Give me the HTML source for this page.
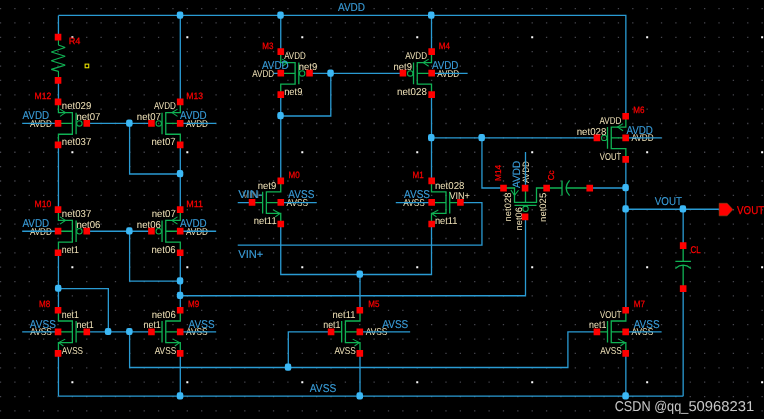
<!DOCTYPE html>
<html lang="en">
<head>
<meta charset="utf-8">
<title>Two-stage op-amp schematic</title>
<style>
html,body{margin:0;padding:0;background:#000;}
body{width:764px;height:419px;overflow:hidden;}
svg{display:block;will-change:transform;text-rendering:geometricPrecision;font-family:"Liberation Sans", sans-serif;}
</style>
</head>
<body>
<svg width="764" height="419" viewBox="0 0 764 419">
<g id="grid"><path fill="#46464e" d="M-0.13 7.91h1.3v1.3h-1.3zM-0.13 22.28h1.3v1.3h-1.3zM-0.13 36.65h1.3v1.3h-1.3zM-0.13 51.02h1.3v1.3h-1.3zM-0.13 65.39h1.3v1.3h-1.3zM-0.13 79.76h1.3v1.3h-1.3zM-0.13 94.13h1.3v1.3h-1.3zM-0.13 108.5h1.3v1.3h-1.3zM-0.13 122.87h1.3v1.3h-1.3zM-0.13 137.24h1.3v1.3h-1.3zM-0.13 151.61h1.3v1.3h-1.3zM-0.13 165.98h1.3v1.3h-1.3zM-0.13 180.35h1.3v1.3h-1.3zM-0.13 194.72h1.3v1.3h-1.3zM-0.13 209.09h1.3v1.3h-1.3zM-0.13 223.46h1.3v1.3h-1.3zM-0.13 237.83h1.3v1.3h-1.3zM-0.13 252.2h1.3v1.3h-1.3zM-0.13 266.57h1.3v1.3h-1.3zM-0.13 280.94h1.3v1.3h-1.3zM-0.13 295.31h1.3v1.3h-1.3zM-0.13 309.68h1.3v1.3h-1.3zM-0.13 324.05h1.3v1.3h-1.3zM-0.13 338.42h1.3v1.3h-1.3zM-0.13 352.79h1.3v1.3h-1.3zM-0.13 367.16h1.3v1.3h-1.3zM-0.13 381.53h1.3v1.3h-1.3zM-0.13 395.9h1.3v1.3h-1.3zM-0.13 410.27h1.3v1.3h-1.3zM14.24 7.91h1.3v1.3h-1.3zM14.24 22.28h1.3v1.3h-1.3zM14.24 36.65h1.3v1.3h-1.3zM14.24 51.02h1.3v1.3h-1.3zM14.24 65.39h1.3v1.3h-1.3zM14.24 79.76h1.3v1.3h-1.3zM14.24 94.13h1.3v1.3h-1.3zM14.24 108.5h1.3v1.3h-1.3zM14.24 122.87h1.3v1.3h-1.3zM14.24 137.24h1.3v1.3h-1.3zM14.24 151.61h1.3v1.3h-1.3zM14.24 165.98h1.3v1.3h-1.3zM14.24 180.35h1.3v1.3h-1.3zM14.24 194.72h1.3v1.3h-1.3zM14.24 209.09h1.3v1.3h-1.3zM14.24 223.46h1.3v1.3h-1.3zM14.24 237.83h1.3v1.3h-1.3zM14.24 252.2h1.3v1.3h-1.3zM14.24 266.57h1.3v1.3h-1.3zM14.24 280.94h1.3v1.3h-1.3zM14.24 295.31h1.3v1.3h-1.3zM14.24 309.68h1.3v1.3h-1.3zM14.24 324.05h1.3v1.3h-1.3zM14.24 338.42h1.3v1.3h-1.3zM14.24 352.79h1.3v1.3h-1.3zM14.24 367.16h1.3v1.3h-1.3zM14.24 381.53h1.3v1.3h-1.3zM14.24 395.9h1.3v1.3h-1.3zM14.24 410.27h1.3v1.3h-1.3zM28.61 7.91h1.3v1.3h-1.3zM28.61 22.28h1.3v1.3h-1.3zM28.61 36.65h1.3v1.3h-1.3zM28.61 51.02h1.3v1.3h-1.3zM28.61 65.39h1.3v1.3h-1.3zM28.61 79.76h1.3v1.3h-1.3zM28.61 94.13h1.3v1.3h-1.3zM28.61 108.5h1.3v1.3h-1.3zM28.61 122.87h1.3v1.3h-1.3zM28.61 137.24h1.3v1.3h-1.3zM28.61 151.61h1.3v1.3h-1.3zM28.61 165.98h1.3v1.3h-1.3zM28.61 180.35h1.3v1.3h-1.3zM28.61 194.72h1.3v1.3h-1.3zM28.61 209.09h1.3v1.3h-1.3zM28.61 223.46h1.3v1.3h-1.3zM28.61 237.83h1.3v1.3h-1.3zM28.61 252.2h1.3v1.3h-1.3zM28.61 266.57h1.3v1.3h-1.3zM28.61 280.94h1.3v1.3h-1.3zM28.61 295.31h1.3v1.3h-1.3zM28.61 309.68h1.3v1.3h-1.3zM28.61 324.05h1.3v1.3h-1.3zM28.61 338.42h1.3v1.3h-1.3zM28.61 352.79h1.3v1.3h-1.3zM28.61 367.16h1.3v1.3h-1.3zM28.61 381.53h1.3v1.3h-1.3zM28.61 395.9h1.3v1.3h-1.3zM28.61 410.27h1.3v1.3h-1.3zM42.98 7.91h1.3v1.3h-1.3zM42.98 22.28h1.3v1.3h-1.3zM42.98 36.65h1.3v1.3h-1.3zM42.98 51.02h1.3v1.3h-1.3zM42.98 65.39h1.3v1.3h-1.3zM42.98 79.76h1.3v1.3h-1.3zM42.98 94.13h1.3v1.3h-1.3zM42.98 108.5h1.3v1.3h-1.3zM42.98 122.87h1.3v1.3h-1.3zM42.98 137.24h1.3v1.3h-1.3zM42.98 151.61h1.3v1.3h-1.3zM42.98 165.98h1.3v1.3h-1.3zM42.98 180.35h1.3v1.3h-1.3zM42.98 194.72h1.3v1.3h-1.3zM42.98 209.09h1.3v1.3h-1.3zM42.98 223.46h1.3v1.3h-1.3zM42.98 237.83h1.3v1.3h-1.3zM42.98 252.2h1.3v1.3h-1.3zM42.98 266.57h1.3v1.3h-1.3zM42.98 280.94h1.3v1.3h-1.3zM42.98 295.31h1.3v1.3h-1.3zM42.98 309.68h1.3v1.3h-1.3zM42.98 324.05h1.3v1.3h-1.3zM42.98 338.42h1.3v1.3h-1.3zM42.98 352.79h1.3v1.3h-1.3zM42.98 367.16h1.3v1.3h-1.3zM42.98 381.53h1.3v1.3h-1.3zM42.98 395.9h1.3v1.3h-1.3zM42.98 410.27h1.3v1.3h-1.3zM57.35 7.91h1.3v1.3h-1.3zM57.35 22.28h1.3v1.3h-1.3zM57.35 36.65h1.3v1.3h-1.3zM57.35 51.02h1.3v1.3h-1.3zM57.35 65.39h1.3v1.3h-1.3zM57.35 79.76h1.3v1.3h-1.3zM57.35 94.13h1.3v1.3h-1.3zM57.35 108.5h1.3v1.3h-1.3zM57.35 122.87h1.3v1.3h-1.3zM57.35 137.24h1.3v1.3h-1.3zM57.35 151.61h1.3v1.3h-1.3zM57.35 165.98h1.3v1.3h-1.3zM57.35 180.35h1.3v1.3h-1.3zM57.35 194.72h1.3v1.3h-1.3zM57.35 209.09h1.3v1.3h-1.3zM57.35 223.46h1.3v1.3h-1.3zM57.35 237.83h1.3v1.3h-1.3zM57.35 252.2h1.3v1.3h-1.3zM57.35 266.57h1.3v1.3h-1.3zM57.35 280.94h1.3v1.3h-1.3zM57.35 295.31h1.3v1.3h-1.3zM57.35 309.68h1.3v1.3h-1.3zM57.35 324.05h1.3v1.3h-1.3zM57.35 338.42h1.3v1.3h-1.3zM57.35 352.79h1.3v1.3h-1.3zM57.35 367.16h1.3v1.3h-1.3zM57.35 381.53h1.3v1.3h-1.3zM57.35 395.9h1.3v1.3h-1.3zM57.35 410.27h1.3v1.3h-1.3zM71.72 7.91h1.3v1.3h-1.3zM71.72 22.28h1.3v1.3h-1.3zM71.72 51.02h1.3v1.3h-1.3zM71.72 65.39h1.3v1.3h-1.3zM71.72 79.76h1.3v1.3h-1.3zM71.72 94.13h1.3v1.3h-1.3zM71.72 108.5h1.3v1.3h-1.3zM71.72 122.87h1.3v1.3h-1.3zM71.72 137.24h1.3v1.3h-1.3zM71.72 165.98h1.3v1.3h-1.3zM71.72 180.35h1.3v1.3h-1.3zM71.72 194.72h1.3v1.3h-1.3zM71.72 209.09h1.3v1.3h-1.3zM71.72 223.46h1.3v1.3h-1.3zM71.72 237.83h1.3v1.3h-1.3zM71.72 252.2h1.3v1.3h-1.3zM71.72 280.94h1.3v1.3h-1.3zM71.72 295.31h1.3v1.3h-1.3zM71.72 309.68h1.3v1.3h-1.3zM71.72 324.05h1.3v1.3h-1.3zM71.72 338.42h1.3v1.3h-1.3zM71.72 352.79h1.3v1.3h-1.3zM71.72 367.16h1.3v1.3h-1.3zM71.72 395.9h1.3v1.3h-1.3zM71.72 410.27h1.3v1.3h-1.3zM86.09 7.91h1.3v1.3h-1.3zM86.09 22.28h1.3v1.3h-1.3zM86.09 36.65h1.3v1.3h-1.3zM86.09 51.02h1.3v1.3h-1.3zM86.09 65.39h1.3v1.3h-1.3zM86.09 79.76h1.3v1.3h-1.3zM86.09 94.13h1.3v1.3h-1.3zM86.09 108.5h1.3v1.3h-1.3zM86.09 122.87h1.3v1.3h-1.3zM86.09 137.24h1.3v1.3h-1.3zM86.09 151.61h1.3v1.3h-1.3zM86.09 165.98h1.3v1.3h-1.3zM86.09 180.35h1.3v1.3h-1.3zM86.09 194.72h1.3v1.3h-1.3zM86.09 209.09h1.3v1.3h-1.3zM86.09 223.46h1.3v1.3h-1.3zM86.09 237.83h1.3v1.3h-1.3zM86.09 252.2h1.3v1.3h-1.3zM86.09 266.57h1.3v1.3h-1.3zM86.09 280.94h1.3v1.3h-1.3zM86.09 295.31h1.3v1.3h-1.3zM86.09 309.68h1.3v1.3h-1.3zM86.09 324.05h1.3v1.3h-1.3zM86.09 338.42h1.3v1.3h-1.3zM86.09 352.79h1.3v1.3h-1.3zM86.09 367.16h1.3v1.3h-1.3zM86.09 381.53h1.3v1.3h-1.3zM86.09 395.9h1.3v1.3h-1.3zM86.09 410.27h1.3v1.3h-1.3zM100.46 7.91h1.3v1.3h-1.3zM100.46 22.28h1.3v1.3h-1.3zM100.46 36.65h1.3v1.3h-1.3zM100.46 51.02h1.3v1.3h-1.3zM100.46 65.39h1.3v1.3h-1.3zM100.46 79.76h1.3v1.3h-1.3zM100.46 94.13h1.3v1.3h-1.3zM100.46 108.5h1.3v1.3h-1.3zM100.46 122.87h1.3v1.3h-1.3zM100.46 137.24h1.3v1.3h-1.3zM100.46 151.61h1.3v1.3h-1.3zM100.46 165.98h1.3v1.3h-1.3zM100.46 180.35h1.3v1.3h-1.3zM100.46 194.72h1.3v1.3h-1.3zM100.46 209.09h1.3v1.3h-1.3zM100.46 223.46h1.3v1.3h-1.3zM100.46 237.83h1.3v1.3h-1.3zM100.46 252.2h1.3v1.3h-1.3zM100.46 266.57h1.3v1.3h-1.3zM100.46 280.94h1.3v1.3h-1.3zM100.46 295.31h1.3v1.3h-1.3zM100.46 309.68h1.3v1.3h-1.3zM100.46 324.05h1.3v1.3h-1.3zM100.46 338.42h1.3v1.3h-1.3zM100.46 352.79h1.3v1.3h-1.3zM100.46 367.16h1.3v1.3h-1.3zM100.46 381.53h1.3v1.3h-1.3zM100.46 395.9h1.3v1.3h-1.3zM100.46 410.27h1.3v1.3h-1.3zM114.83 7.91h1.3v1.3h-1.3zM114.83 22.28h1.3v1.3h-1.3zM114.83 36.65h1.3v1.3h-1.3zM114.83 51.02h1.3v1.3h-1.3zM114.83 65.39h1.3v1.3h-1.3zM114.83 79.76h1.3v1.3h-1.3zM114.83 94.13h1.3v1.3h-1.3zM114.83 108.5h1.3v1.3h-1.3zM114.83 122.87h1.3v1.3h-1.3zM114.83 137.24h1.3v1.3h-1.3zM114.83 151.61h1.3v1.3h-1.3zM114.83 165.98h1.3v1.3h-1.3zM114.83 180.35h1.3v1.3h-1.3zM114.83 194.72h1.3v1.3h-1.3zM114.83 209.09h1.3v1.3h-1.3zM114.83 223.46h1.3v1.3h-1.3zM114.83 237.83h1.3v1.3h-1.3zM114.83 252.2h1.3v1.3h-1.3zM114.83 266.57h1.3v1.3h-1.3zM114.83 280.94h1.3v1.3h-1.3zM114.83 295.31h1.3v1.3h-1.3zM114.83 309.68h1.3v1.3h-1.3zM114.83 324.05h1.3v1.3h-1.3zM114.83 338.42h1.3v1.3h-1.3zM114.83 352.79h1.3v1.3h-1.3zM114.83 367.16h1.3v1.3h-1.3zM114.83 381.53h1.3v1.3h-1.3zM114.83 395.9h1.3v1.3h-1.3zM114.83 410.27h1.3v1.3h-1.3zM129.2 7.91h1.3v1.3h-1.3zM129.2 22.28h1.3v1.3h-1.3zM129.2 36.65h1.3v1.3h-1.3zM129.2 51.02h1.3v1.3h-1.3zM129.2 65.39h1.3v1.3h-1.3zM129.2 79.76h1.3v1.3h-1.3zM129.2 94.13h1.3v1.3h-1.3zM129.2 108.5h1.3v1.3h-1.3zM129.2 122.87h1.3v1.3h-1.3zM129.2 137.24h1.3v1.3h-1.3zM129.2 151.61h1.3v1.3h-1.3zM129.2 165.98h1.3v1.3h-1.3zM129.2 180.35h1.3v1.3h-1.3zM129.2 194.72h1.3v1.3h-1.3zM129.2 209.09h1.3v1.3h-1.3zM129.2 223.46h1.3v1.3h-1.3zM129.2 237.83h1.3v1.3h-1.3zM129.2 252.2h1.3v1.3h-1.3zM129.2 266.57h1.3v1.3h-1.3zM129.2 280.94h1.3v1.3h-1.3zM129.2 295.31h1.3v1.3h-1.3zM129.2 309.68h1.3v1.3h-1.3zM129.2 324.05h1.3v1.3h-1.3zM129.2 338.42h1.3v1.3h-1.3zM129.2 352.79h1.3v1.3h-1.3zM129.2 367.16h1.3v1.3h-1.3zM129.2 381.53h1.3v1.3h-1.3zM129.2 395.9h1.3v1.3h-1.3zM129.2 410.27h1.3v1.3h-1.3zM143.57 7.91h1.3v1.3h-1.3zM143.57 22.28h1.3v1.3h-1.3zM143.57 36.65h1.3v1.3h-1.3zM143.57 51.02h1.3v1.3h-1.3zM143.57 65.39h1.3v1.3h-1.3zM143.57 79.76h1.3v1.3h-1.3zM143.57 94.13h1.3v1.3h-1.3zM143.57 108.5h1.3v1.3h-1.3zM143.57 122.87h1.3v1.3h-1.3zM143.57 137.24h1.3v1.3h-1.3zM143.57 151.61h1.3v1.3h-1.3zM143.57 165.98h1.3v1.3h-1.3zM143.57 180.35h1.3v1.3h-1.3zM143.57 194.72h1.3v1.3h-1.3zM143.57 209.09h1.3v1.3h-1.3zM143.57 223.46h1.3v1.3h-1.3zM143.57 237.83h1.3v1.3h-1.3zM143.57 252.2h1.3v1.3h-1.3zM143.57 266.57h1.3v1.3h-1.3zM143.57 280.94h1.3v1.3h-1.3zM143.57 295.31h1.3v1.3h-1.3zM143.57 309.68h1.3v1.3h-1.3zM143.57 324.05h1.3v1.3h-1.3zM143.57 338.42h1.3v1.3h-1.3zM143.57 352.79h1.3v1.3h-1.3zM143.57 367.16h1.3v1.3h-1.3zM143.57 381.53h1.3v1.3h-1.3zM143.57 395.9h1.3v1.3h-1.3zM143.57 410.27h1.3v1.3h-1.3zM157.94 7.91h1.3v1.3h-1.3zM157.94 22.28h1.3v1.3h-1.3zM157.94 36.65h1.3v1.3h-1.3zM157.94 51.02h1.3v1.3h-1.3zM157.94 65.39h1.3v1.3h-1.3zM157.94 79.76h1.3v1.3h-1.3zM157.94 94.13h1.3v1.3h-1.3zM157.94 108.5h1.3v1.3h-1.3zM157.94 122.87h1.3v1.3h-1.3zM157.94 137.24h1.3v1.3h-1.3zM157.94 151.61h1.3v1.3h-1.3zM157.94 165.98h1.3v1.3h-1.3zM157.94 180.35h1.3v1.3h-1.3zM157.94 194.72h1.3v1.3h-1.3zM157.94 209.09h1.3v1.3h-1.3zM157.94 223.46h1.3v1.3h-1.3zM157.94 237.83h1.3v1.3h-1.3zM157.94 252.2h1.3v1.3h-1.3zM157.94 266.57h1.3v1.3h-1.3zM157.94 280.94h1.3v1.3h-1.3zM157.94 295.31h1.3v1.3h-1.3zM157.94 309.68h1.3v1.3h-1.3zM157.94 324.05h1.3v1.3h-1.3zM157.94 338.42h1.3v1.3h-1.3zM157.94 352.79h1.3v1.3h-1.3zM157.94 367.16h1.3v1.3h-1.3zM157.94 381.53h1.3v1.3h-1.3zM157.94 395.9h1.3v1.3h-1.3zM157.94 410.27h1.3v1.3h-1.3zM172.31 7.91h1.3v1.3h-1.3zM172.31 22.28h1.3v1.3h-1.3zM172.31 36.65h1.3v1.3h-1.3zM172.31 51.02h1.3v1.3h-1.3zM172.31 65.39h1.3v1.3h-1.3zM172.31 79.76h1.3v1.3h-1.3zM172.31 94.13h1.3v1.3h-1.3zM172.31 108.5h1.3v1.3h-1.3zM172.31 122.87h1.3v1.3h-1.3zM172.31 137.24h1.3v1.3h-1.3zM172.31 151.61h1.3v1.3h-1.3zM172.31 165.98h1.3v1.3h-1.3zM172.31 180.35h1.3v1.3h-1.3zM172.31 194.72h1.3v1.3h-1.3zM172.31 209.09h1.3v1.3h-1.3zM172.31 223.46h1.3v1.3h-1.3zM172.31 237.83h1.3v1.3h-1.3zM172.31 252.2h1.3v1.3h-1.3zM172.31 266.57h1.3v1.3h-1.3zM172.31 280.94h1.3v1.3h-1.3zM172.31 295.31h1.3v1.3h-1.3zM172.31 309.68h1.3v1.3h-1.3zM172.31 324.05h1.3v1.3h-1.3zM172.31 338.42h1.3v1.3h-1.3zM172.31 352.79h1.3v1.3h-1.3zM172.31 367.16h1.3v1.3h-1.3zM172.31 381.53h1.3v1.3h-1.3zM172.31 395.9h1.3v1.3h-1.3zM172.31 410.27h1.3v1.3h-1.3zM186.68 7.91h1.3v1.3h-1.3zM186.68 22.28h1.3v1.3h-1.3zM186.68 51.02h1.3v1.3h-1.3zM186.68 65.39h1.3v1.3h-1.3zM186.68 79.76h1.3v1.3h-1.3zM186.68 94.13h1.3v1.3h-1.3zM186.68 108.5h1.3v1.3h-1.3zM186.68 122.87h1.3v1.3h-1.3zM186.68 137.24h1.3v1.3h-1.3zM186.68 165.98h1.3v1.3h-1.3zM186.68 180.35h1.3v1.3h-1.3zM186.68 194.72h1.3v1.3h-1.3zM186.68 209.09h1.3v1.3h-1.3zM186.68 223.46h1.3v1.3h-1.3zM186.68 237.83h1.3v1.3h-1.3zM186.68 252.2h1.3v1.3h-1.3zM186.68 280.94h1.3v1.3h-1.3zM186.68 295.31h1.3v1.3h-1.3zM186.68 309.68h1.3v1.3h-1.3zM186.68 324.05h1.3v1.3h-1.3zM186.68 338.42h1.3v1.3h-1.3zM186.68 352.79h1.3v1.3h-1.3zM186.68 367.16h1.3v1.3h-1.3zM186.68 395.9h1.3v1.3h-1.3zM186.68 410.27h1.3v1.3h-1.3zM201.05 7.91h1.3v1.3h-1.3zM201.05 22.28h1.3v1.3h-1.3zM201.05 36.65h1.3v1.3h-1.3zM201.05 51.02h1.3v1.3h-1.3zM201.05 65.39h1.3v1.3h-1.3zM201.05 79.76h1.3v1.3h-1.3zM201.05 94.13h1.3v1.3h-1.3zM201.05 108.5h1.3v1.3h-1.3zM201.05 122.87h1.3v1.3h-1.3zM201.05 137.24h1.3v1.3h-1.3zM201.05 151.61h1.3v1.3h-1.3zM201.05 165.98h1.3v1.3h-1.3zM201.05 180.35h1.3v1.3h-1.3zM201.05 194.72h1.3v1.3h-1.3zM201.05 209.09h1.3v1.3h-1.3zM201.05 223.46h1.3v1.3h-1.3zM201.05 237.83h1.3v1.3h-1.3zM201.05 252.2h1.3v1.3h-1.3zM201.05 266.57h1.3v1.3h-1.3zM201.05 280.94h1.3v1.3h-1.3zM201.05 295.31h1.3v1.3h-1.3zM201.05 309.68h1.3v1.3h-1.3zM201.05 324.05h1.3v1.3h-1.3zM201.05 338.42h1.3v1.3h-1.3zM201.05 352.79h1.3v1.3h-1.3zM201.05 367.16h1.3v1.3h-1.3zM201.05 381.53h1.3v1.3h-1.3zM201.05 395.9h1.3v1.3h-1.3zM201.05 410.27h1.3v1.3h-1.3zM215.42 7.91h1.3v1.3h-1.3zM215.42 22.28h1.3v1.3h-1.3zM215.42 36.65h1.3v1.3h-1.3zM215.42 51.02h1.3v1.3h-1.3zM215.42 65.39h1.3v1.3h-1.3zM215.42 79.76h1.3v1.3h-1.3zM215.42 94.13h1.3v1.3h-1.3zM215.42 108.5h1.3v1.3h-1.3zM215.42 122.87h1.3v1.3h-1.3zM215.42 137.24h1.3v1.3h-1.3zM215.42 151.61h1.3v1.3h-1.3zM215.42 165.98h1.3v1.3h-1.3zM215.42 180.35h1.3v1.3h-1.3zM215.42 194.72h1.3v1.3h-1.3zM215.42 209.09h1.3v1.3h-1.3zM215.42 223.46h1.3v1.3h-1.3zM215.42 237.83h1.3v1.3h-1.3zM215.42 252.2h1.3v1.3h-1.3zM215.42 266.57h1.3v1.3h-1.3zM215.42 280.94h1.3v1.3h-1.3zM215.42 295.31h1.3v1.3h-1.3zM215.42 309.68h1.3v1.3h-1.3zM215.42 324.05h1.3v1.3h-1.3zM215.42 338.42h1.3v1.3h-1.3zM215.42 352.79h1.3v1.3h-1.3zM215.42 367.16h1.3v1.3h-1.3zM215.42 381.53h1.3v1.3h-1.3zM215.42 395.9h1.3v1.3h-1.3zM215.42 410.27h1.3v1.3h-1.3zM229.79 7.91h1.3v1.3h-1.3zM229.79 22.28h1.3v1.3h-1.3zM229.79 36.65h1.3v1.3h-1.3zM229.79 51.02h1.3v1.3h-1.3zM229.79 65.39h1.3v1.3h-1.3zM229.79 79.76h1.3v1.3h-1.3zM229.79 94.13h1.3v1.3h-1.3zM229.79 108.5h1.3v1.3h-1.3zM229.79 122.87h1.3v1.3h-1.3zM229.79 137.24h1.3v1.3h-1.3zM229.79 151.61h1.3v1.3h-1.3zM229.79 165.98h1.3v1.3h-1.3zM229.79 180.35h1.3v1.3h-1.3zM229.79 194.72h1.3v1.3h-1.3zM229.79 209.09h1.3v1.3h-1.3zM229.79 223.46h1.3v1.3h-1.3zM229.79 237.83h1.3v1.3h-1.3zM229.79 252.2h1.3v1.3h-1.3zM229.79 266.57h1.3v1.3h-1.3zM229.79 280.94h1.3v1.3h-1.3zM229.79 295.31h1.3v1.3h-1.3zM229.79 309.68h1.3v1.3h-1.3zM229.79 324.05h1.3v1.3h-1.3zM229.79 338.42h1.3v1.3h-1.3zM229.79 352.79h1.3v1.3h-1.3zM229.79 367.16h1.3v1.3h-1.3zM229.79 381.53h1.3v1.3h-1.3zM229.79 395.9h1.3v1.3h-1.3zM229.79 410.27h1.3v1.3h-1.3zM244.16 7.91h1.3v1.3h-1.3zM244.16 22.28h1.3v1.3h-1.3zM244.16 36.65h1.3v1.3h-1.3zM244.16 51.02h1.3v1.3h-1.3zM244.16 65.39h1.3v1.3h-1.3zM244.16 79.76h1.3v1.3h-1.3zM244.16 94.13h1.3v1.3h-1.3zM244.16 108.5h1.3v1.3h-1.3zM244.16 122.87h1.3v1.3h-1.3zM244.16 137.24h1.3v1.3h-1.3zM244.16 151.61h1.3v1.3h-1.3zM244.16 165.98h1.3v1.3h-1.3zM244.16 180.35h1.3v1.3h-1.3zM244.16 194.72h1.3v1.3h-1.3zM244.16 209.09h1.3v1.3h-1.3zM244.16 223.46h1.3v1.3h-1.3zM244.16 237.83h1.3v1.3h-1.3zM244.16 252.2h1.3v1.3h-1.3zM244.16 266.57h1.3v1.3h-1.3zM244.16 280.94h1.3v1.3h-1.3zM244.16 295.31h1.3v1.3h-1.3zM244.16 309.68h1.3v1.3h-1.3zM244.16 324.05h1.3v1.3h-1.3zM244.16 338.42h1.3v1.3h-1.3zM244.16 352.79h1.3v1.3h-1.3zM244.16 367.16h1.3v1.3h-1.3zM244.16 381.53h1.3v1.3h-1.3zM244.16 395.9h1.3v1.3h-1.3zM244.16 410.27h1.3v1.3h-1.3zM258.53 7.91h1.3v1.3h-1.3zM258.53 22.28h1.3v1.3h-1.3zM258.53 36.65h1.3v1.3h-1.3zM258.53 51.02h1.3v1.3h-1.3zM258.53 65.39h1.3v1.3h-1.3zM258.53 79.76h1.3v1.3h-1.3zM258.53 94.13h1.3v1.3h-1.3zM258.53 108.5h1.3v1.3h-1.3zM258.53 122.87h1.3v1.3h-1.3zM258.53 137.24h1.3v1.3h-1.3zM258.53 151.61h1.3v1.3h-1.3zM258.53 165.98h1.3v1.3h-1.3zM258.53 180.35h1.3v1.3h-1.3zM258.53 194.72h1.3v1.3h-1.3zM258.53 209.09h1.3v1.3h-1.3zM258.53 223.46h1.3v1.3h-1.3zM258.53 237.83h1.3v1.3h-1.3zM258.53 252.2h1.3v1.3h-1.3zM258.53 266.57h1.3v1.3h-1.3zM258.53 280.94h1.3v1.3h-1.3zM258.53 295.31h1.3v1.3h-1.3zM258.53 309.68h1.3v1.3h-1.3zM258.53 324.05h1.3v1.3h-1.3zM258.53 338.42h1.3v1.3h-1.3zM258.53 352.79h1.3v1.3h-1.3zM258.53 367.16h1.3v1.3h-1.3zM258.53 381.53h1.3v1.3h-1.3zM258.53 395.9h1.3v1.3h-1.3zM258.53 410.27h1.3v1.3h-1.3zM272.9 7.91h1.3v1.3h-1.3zM272.9 22.28h1.3v1.3h-1.3zM272.9 36.65h1.3v1.3h-1.3zM272.9 51.02h1.3v1.3h-1.3zM272.9 65.39h1.3v1.3h-1.3zM272.9 79.76h1.3v1.3h-1.3zM272.9 94.13h1.3v1.3h-1.3zM272.9 108.5h1.3v1.3h-1.3zM272.9 122.87h1.3v1.3h-1.3zM272.9 137.24h1.3v1.3h-1.3zM272.9 151.61h1.3v1.3h-1.3zM272.9 165.98h1.3v1.3h-1.3zM272.9 180.35h1.3v1.3h-1.3zM272.9 194.72h1.3v1.3h-1.3zM272.9 209.09h1.3v1.3h-1.3zM272.9 223.46h1.3v1.3h-1.3zM272.9 237.83h1.3v1.3h-1.3zM272.9 252.2h1.3v1.3h-1.3zM272.9 266.57h1.3v1.3h-1.3zM272.9 280.94h1.3v1.3h-1.3zM272.9 295.31h1.3v1.3h-1.3zM272.9 309.68h1.3v1.3h-1.3zM272.9 324.05h1.3v1.3h-1.3zM272.9 338.42h1.3v1.3h-1.3zM272.9 352.79h1.3v1.3h-1.3zM272.9 367.16h1.3v1.3h-1.3zM272.9 381.53h1.3v1.3h-1.3zM272.9 395.9h1.3v1.3h-1.3zM272.9 410.27h1.3v1.3h-1.3zM287.27 7.91h1.3v1.3h-1.3zM287.27 22.28h1.3v1.3h-1.3zM287.27 36.65h1.3v1.3h-1.3zM287.27 51.02h1.3v1.3h-1.3zM287.27 65.39h1.3v1.3h-1.3zM287.27 79.76h1.3v1.3h-1.3zM287.27 94.13h1.3v1.3h-1.3zM287.27 108.5h1.3v1.3h-1.3zM287.27 122.87h1.3v1.3h-1.3zM287.27 137.24h1.3v1.3h-1.3zM287.27 151.61h1.3v1.3h-1.3zM287.27 165.98h1.3v1.3h-1.3zM287.27 180.35h1.3v1.3h-1.3zM287.27 194.72h1.3v1.3h-1.3zM287.27 209.09h1.3v1.3h-1.3zM287.27 223.46h1.3v1.3h-1.3zM287.27 237.83h1.3v1.3h-1.3zM287.27 252.2h1.3v1.3h-1.3zM287.27 266.57h1.3v1.3h-1.3zM287.27 280.94h1.3v1.3h-1.3zM287.27 295.31h1.3v1.3h-1.3zM287.27 309.68h1.3v1.3h-1.3zM287.27 324.05h1.3v1.3h-1.3zM287.27 338.42h1.3v1.3h-1.3zM287.27 352.79h1.3v1.3h-1.3zM287.27 367.16h1.3v1.3h-1.3zM287.27 381.53h1.3v1.3h-1.3zM287.27 395.9h1.3v1.3h-1.3zM287.27 410.27h1.3v1.3h-1.3zM301.64 7.91h1.3v1.3h-1.3zM301.64 22.28h1.3v1.3h-1.3zM301.64 51.02h1.3v1.3h-1.3zM301.64 65.39h1.3v1.3h-1.3zM301.64 79.76h1.3v1.3h-1.3zM301.64 94.13h1.3v1.3h-1.3zM301.64 108.5h1.3v1.3h-1.3zM301.64 122.87h1.3v1.3h-1.3zM301.64 137.24h1.3v1.3h-1.3zM301.64 165.98h1.3v1.3h-1.3zM301.64 180.35h1.3v1.3h-1.3zM301.64 194.72h1.3v1.3h-1.3zM301.64 209.09h1.3v1.3h-1.3zM301.64 223.46h1.3v1.3h-1.3zM301.64 237.83h1.3v1.3h-1.3zM301.64 252.2h1.3v1.3h-1.3zM301.64 280.94h1.3v1.3h-1.3zM301.64 295.31h1.3v1.3h-1.3zM301.64 309.68h1.3v1.3h-1.3zM301.64 324.05h1.3v1.3h-1.3zM301.64 338.42h1.3v1.3h-1.3zM301.64 352.79h1.3v1.3h-1.3zM301.64 367.16h1.3v1.3h-1.3zM301.64 395.9h1.3v1.3h-1.3zM301.64 410.27h1.3v1.3h-1.3zM316.01 7.91h1.3v1.3h-1.3zM316.01 22.28h1.3v1.3h-1.3zM316.01 36.65h1.3v1.3h-1.3zM316.01 51.02h1.3v1.3h-1.3zM316.01 65.39h1.3v1.3h-1.3zM316.01 79.76h1.3v1.3h-1.3zM316.01 94.13h1.3v1.3h-1.3zM316.01 108.5h1.3v1.3h-1.3zM316.01 122.87h1.3v1.3h-1.3zM316.01 137.24h1.3v1.3h-1.3zM316.01 151.61h1.3v1.3h-1.3zM316.01 165.98h1.3v1.3h-1.3zM316.01 180.35h1.3v1.3h-1.3zM316.01 194.72h1.3v1.3h-1.3zM316.01 209.09h1.3v1.3h-1.3zM316.01 223.46h1.3v1.3h-1.3zM316.01 237.83h1.3v1.3h-1.3zM316.01 252.2h1.3v1.3h-1.3zM316.01 266.57h1.3v1.3h-1.3zM316.01 280.94h1.3v1.3h-1.3zM316.01 295.31h1.3v1.3h-1.3zM316.01 309.68h1.3v1.3h-1.3zM316.01 324.05h1.3v1.3h-1.3zM316.01 338.42h1.3v1.3h-1.3zM316.01 352.79h1.3v1.3h-1.3zM316.01 367.16h1.3v1.3h-1.3zM316.01 381.53h1.3v1.3h-1.3zM316.01 395.9h1.3v1.3h-1.3zM316.01 410.27h1.3v1.3h-1.3zM330.38 7.91h1.3v1.3h-1.3zM330.38 22.28h1.3v1.3h-1.3zM330.38 36.65h1.3v1.3h-1.3zM330.38 51.02h1.3v1.3h-1.3zM330.38 65.39h1.3v1.3h-1.3zM330.38 79.76h1.3v1.3h-1.3zM330.38 94.13h1.3v1.3h-1.3zM330.38 108.5h1.3v1.3h-1.3zM330.38 122.87h1.3v1.3h-1.3zM330.38 137.24h1.3v1.3h-1.3zM330.38 151.61h1.3v1.3h-1.3zM330.38 165.98h1.3v1.3h-1.3zM330.38 180.35h1.3v1.3h-1.3zM330.38 194.72h1.3v1.3h-1.3zM330.38 209.09h1.3v1.3h-1.3zM330.38 223.46h1.3v1.3h-1.3zM330.38 237.83h1.3v1.3h-1.3zM330.38 252.2h1.3v1.3h-1.3zM330.38 266.57h1.3v1.3h-1.3zM330.38 280.94h1.3v1.3h-1.3zM330.38 295.31h1.3v1.3h-1.3zM330.38 309.68h1.3v1.3h-1.3zM330.38 324.05h1.3v1.3h-1.3zM330.38 338.42h1.3v1.3h-1.3zM330.38 352.79h1.3v1.3h-1.3zM330.38 367.16h1.3v1.3h-1.3zM330.38 381.53h1.3v1.3h-1.3zM330.38 395.9h1.3v1.3h-1.3zM330.38 410.27h1.3v1.3h-1.3zM344.75 7.91h1.3v1.3h-1.3zM344.75 22.28h1.3v1.3h-1.3zM344.75 36.65h1.3v1.3h-1.3zM344.75 51.02h1.3v1.3h-1.3zM344.75 65.39h1.3v1.3h-1.3zM344.75 79.76h1.3v1.3h-1.3zM344.75 94.13h1.3v1.3h-1.3zM344.75 108.5h1.3v1.3h-1.3zM344.75 122.87h1.3v1.3h-1.3zM344.75 137.24h1.3v1.3h-1.3zM344.75 151.61h1.3v1.3h-1.3zM344.75 165.98h1.3v1.3h-1.3zM344.75 180.35h1.3v1.3h-1.3zM344.75 194.72h1.3v1.3h-1.3zM344.75 209.09h1.3v1.3h-1.3zM344.75 223.46h1.3v1.3h-1.3zM344.75 237.83h1.3v1.3h-1.3zM344.75 252.2h1.3v1.3h-1.3zM344.75 266.57h1.3v1.3h-1.3zM344.75 280.94h1.3v1.3h-1.3zM344.75 295.31h1.3v1.3h-1.3zM344.75 309.68h1.3v1.3h-1.3zM344.75 324.05h1.3v1.3h-1.3zM344.75 338.42h1.3v1.3h-1.3zM344.75 352.79h1.3v1.3h-1.3zM344.75 367.16h1.3v1.3h-1.3zM344.75 381.53h1.3v1.3h-1.3zM344.75 395.9h1.3v1.3h-1.3zM344.75 410.27h1.3v1.3h-1.3zM359.12 7.91h1.3v1.3h-1.3zM359.12 22.28h1.3v1.3h-1.3zM359.12 36.65h1.3v1.3h-1.3zM359.12 51.02h1.3v1.3h-1.3zM359.12 65.39h1.3v1.3h-1.3zM359.12 79.76h1.3v1.3h-1.3zM359.12 94.13h1.3v1.3h-1.3zM359.12 108.5h1.3v1.3h-1.3zM359.12 122.87h1.3v1.3h-1.3zM359.12 137.24h1.3v1.3h-1.3zM359.12 151.61h1.3v1.3h-1.3zM359.12 165.98h1.3v1.3h-1.3zM359.12 180.35h1.3v1.3h-1.3zM359.12 194.72h1.3v1.3h-1.3zM359.12 209.09h1.3v1.3h-1.3zM359.12 223.46h1.3v1.3h-1.3zM359.12 237.83h1.3v1.3h-1.3zM359.12 252.2h1.3v1.3h-1.3zM359.12 266.57h1.3v1.3h-1.3zM359.12 280.94h1.3v1.3h-1.3zM359.12 295.31h1.3v1.3h-1.3zM359.12 309.68h1.3v1.3h-1.3zM359.12 324.05h1.3v1.3h-1.3zM359.12 338.42h1.3v1.3h-1.3zM359.12 352.79h1.3v1.3h-1.3zM359.12 367.16h1.3v1.3h-1.3zM359.12 381.53h1.3v1.3h-1.3zM359.12 395.9h1.3v1.3h-1.3zM359.12 410.27h1.3v1.3h-1.3zM373.49 7.91h1.3v1.3h-1.3zM373.49 22.28h1.3v1.3h-1.3zM373.49 36.65h1.3v1.3h-1.3zM373.49 51.02h1.3v1.3h-1.3zM373.49 65.39h1.3v1.3h-1.3zM373.49 79.76h1.3v1.3h-1.3zM373.49 94.13h1.3v1.3h-1.3zM373.49 108.5h1.3v1.3h-1.3zM373.49 122.87h1.3v1.3h-1.3zM373.49 137.24h1.3v1.3h-1.3zM373.49 151.61h1.3v1.3h-1.3zM373.49 165.98h1.3v1.3h-1.3zM373.49 180.35h1.3v1.3h-1.3zM373.49 194.72h1.3v1.3h-1.3zM373.49 209.09h1.3v1.3h-1.3zM373.49 223.46h1.3v1.3h-1.3zM373.49 237.83h1.3v1.3h-1.3zM373.49 252.2h1.3v1.3h-1.3zM373.49 266.57h1.3v1.3h-1.3zM373.49 280.94h1.3v1.3h-1.3zM373.49 295.31h1.3v1.3h-1.3zM373.49 309.68h1.3v1.3h-1.3zM373.49 324.05h1.3v1.3h-1.3zM373.49 338.42h1.3v1.3h-1.3zM373.49 352.79h1.3v1.3h-1.3zM373.49 367.16h1.3v1.3h-1.3zM373.49 381.53h1.3v1.3h-1.3zM373.49 395.9h1.3v1.3h-1.3zM373.49 410.27h1.3v1.3h-1.3zM387.86 7.91h1.3v1.3h-1.3zM387.86 22.28h1.3v1.3h-1.3zM387.86 36.65h1.3v1.3h-1.3zM387.86 51.02h1.3v1.3h-1.3zM387.86 65.39h1.3v1.3h-1.3zM387.86 79.76h1.3v1.3h-1.3zM387.86 94.13h1.3v1.3h-1.3zM387.86 108.5h1.3v1.3h-1.3zM387.86 122.87h1.3v1.3h-1.3zM387.86 137.24h1.3v1.3h-1.3zM387.86 151.61h1.3v1.3h-1.3zM387.86 165.98h1.3v1.3h-1.3zM387.86 180.35h1.3v1.3h-1.3zM387.86 194.72h1.3v1.3h-1.3zM387.86 209.09h1.3v1.3h-1.3zM387.86 223.46h1.3v1.3h-1.3zM387.86 237.83h1.3v1.3h-1.3zM387.86 252.2h1.3v1.3h-1.3zM387.86 266.57h1.3v1.3h-1.3zM387.86 280.94h1.3v1.3h-1.3zM387.86 295.31h1.3v1.3h-1.3zM387.86 309.68h1.3v1.3h-1.3zM387.86 324.05h1.3v1.3h-1.3zM387.86 338.42h1.3v1.3h-1.3zM387.86 352.79h1.3v1.3h-1.3zM387.86 367.16h1.3v1.3h-1.3zM387.86 381.53h1.3v1.3h-1.3zM387.86 395.9h1.3v1.3h-1.3zM387.86 410.27h1.3v1.3h-1.3zM402.23 7.91h1.3v1.3h-1.3zM402.23 22.28h1.3v1.3h-1.3zM402.23 36.65h1.3v1.3h-1.3zM402.23 51.02h1.3v1.3h-1.3zM402.23 65.39h1.3v1.3h-1.3zM402.23 79.76h1.3v1.3h-1.3zM402.23 94.13h1.3v1.3h-1.3zM402.23 108.5h1.3v1.3h-1.3zM402.23 122.87h1.3v1.3h-1.3zM402.23 137.24h1.3v1.3h-1.3zM402.23 151.61h1.3v1.3h-1.3zM402.23 165.98h1.3v1.3h-1.3zM402.23 180.35h1.3v1.3h-1.3zM402.23 194.72h1.3v1.3h-1.3zM402.23 209.09h1.3v1.3h-1.3zM402.23 223.46h1.3v1.3h-1.3zM402.23 237.83h1.3v1.3h-1.3zM402.23 252.2h1.3v1.3h-1.3zM402.23 266.57h1.3v1.3h-1.3zM402.23 280.94h1.3v1.3h-1.3zM402.23 295.31h1.3v1.3h-1.3zM402.23 309.68h1.3v1.3h-1.3zM402.23 324.05h1.3v1.3h-1.3zM402.23 338.42h1.3v1.3h-1.3zM402.23 352.79h1.3v1.3h-1.3zM402.23 367.16h1.3v1.3h-1.3zM402.23 381.53h1.3v1.3h-1.3zM402.23 395.9h1.3v1.3h-1.3zM402.23 410.27h1.3v1.3h-1.3zM416.6 7.91h1.3v1.3h-1.3zM416.6 22.28h1.3v1.3h-1.3zM416.6 51.02h1.3v1.3h-1.3zM416.6 65.39h1.3v1.3h-1.3zM416.6 79.76h1.3v1.3h-1.3zM416.6 94.13h1.3v1.3h-1.3zM416.6 108.5h1.3v1.3h-1.3zM416.6 122.87h1.3v1.3h-1.3zM416.6 137.24h1.3v1.3h-1.3zM416.6 165.98h1.3v1.3h-1.3zM416.6 180.35h1.3v1.3h-1.3zM416.6 194.72h1.3v1.3h-1.3zM416.6 209.09h1.3v1.3h-1.3zM416.6 223.46h1.3v1.3h-1.3zM416.6 237.83h1.3v1.3h-1.3zM416.6 252.2h1.3v1.3h-1.3zM416.6 280.94h1.3v1.3h-1.3zM416.6 295.31h1.3v1.3h-1.3zM416.6 309.68h1.3v1.3h-1.3zM416.6 324.05h1.3v1.3h-1.3zM416.6 338.42h1.3v1.3h-1.3zM416.6 352.79h1.3v1.3h-1.3zM416.6 367.16h1.3v1.3h-1.3zM416.6 395.9h1.3v1.3h-1.3zM416.6 410.27h1.3v1.3h-1.3zM430.97 7.91h1.3v1.3h-1.3zM430.97 22.28h1.3v1.3h-1.3zM430.97 36.65h1.3v1.3h-1.3zM430.97 51.02h1.3v1.3h-1.3zM430.97 65.39h1.3v1.3h-1.3zM430.97 79.76h1.3v1.3h-1.3zM430.97 94.13h1.3v1.3h-1.3zM430.97 108.5h1.3v1.3h-1.3zM430.97 122.87h1.3v1.3h-1.3zM430.97 137.24h1.3v1.3h-1.3zM430.97 151.61h1.3v1.3h-1.3zM430.97 165.98h1.3v1.3h-1.3zM430.97 180.35h1.3v1.3h-1.3zM430.97 194.72h1.3v1.3h-1.3zM430.97 209.09h1.3v1.3h-1.3zM430.97 223.46h1.3v1.3h-1.3zM430.97 237.83h1.3v1.3h-1.3zM430.97 252.2h1.3v1.3h-1.3zM430.97 266.57h1.3v1.3h-1.3zM430.97 280.94h1.3v1.3h-1.3zM430.97 295.31h1.3v1.3h-1.3zM430.97 309.68h1.3v1.3h-1.3zM430.97 324.05h1.3v1.3h-1.3zM430.97 338.42h1.3v1.3h-1.3zM430.97 352.79h1.3v1.3h-1.3zM430.97 367.16h1.3v1.3h-1.3zM430.97 381.53h1.3v1.3h-1.3zM430.97 395.9h1.3v1.3h-1.3zM430.97 410.27h1.3v1.3h-1.3zM445.34 7.91h1.3v1.3h-1.3zM445.34 22.28h1.3v1.3h-1.3zM445.34 36.65h1.3v1.3h-1.3zM445.34 51.02h1.3v1.3h-1.3zM445.34 65.39h1.3v1.3h-1.3zM445.34 79.76h1.3v1.3h-1.3zM445.34 94.13h1.3v1.3h-1.3zM445.34 108.5h1.3v1.3h-1.3zM445.34 122.87h1.3v1.3h-1.3zM445.34 137.24h1.3v1.3h-1.3zM445.34 151.61h1.3v1.3h-1.3zM445.34 165.98h1.3v1.3h-1.3zM445.34 180.35h1.3v1.3h-1.3zM445.34 194.72h1.3v1.3h-1.3zM445.34 209.09h1.3v1.3h-1.3zM445.34 223.46h1.3v1.3h-1.3zM445.34 237.83h1.3v1.3h-1.3zM445.34 252.2h1.3v1.3h-1.3zM445.34 266.57h1.3v1.3h-1.3zM445.34 280.94h1.3v1.3h-1.3zM445.34 295.31h1.3v1.3h-1.3zM445.34 309.68h1.3v1.3h-1.3zM445.34 324.05h1.3v1.3h-1.3zM445.34 338.42h1.3v1.3h-1.3zM445.34 352.79h1.3v1.3h-1.3zM445.34 367.16h1.3v1.3h-1.3zM445.34 381.53h1.3v1.3h-1.3zM445.34 395.9h1.3v1.3h-1.3zM445.34 410.27h1.3v1.3h-1.3zM459.71 7.91h1.3v1.3h-1.3zM459.71 22.28h1.3v1.3h-1.3zM459.71 36.65h1.3v1.3h-1.3zM459.71 51.02h1.3v1.3h-1.3zM459.71 65.39h1.3v1.3h-1.3zM459.71 79.76h1.3v1.3h-1.3zM459.71 94.13h1.3v1.3h-1.3zM459.71 108.5h1.3v1.3h-1.3zM459.71 122.87h1.3v1.3h-1.3zM459.71 137.24h1.3v1.3h-1.3zM459.71 151.61h1.3v1.3h-1.3zM459.71 165.98h1.3v1.3h-1.3zM459.71 180.35h1.3v1.3h-1.3zM459.71 194.72h1.3v1.3h-1.3zM459.71 209.09h1.3v1.3h-1.3zM459.71 223.46h1.3v1.3h-1.3zM459.71 237.83h1.3v1.3h-1.3zM459.71 252.2h1.3v1.3h-1.3zM459.71 266.57h1.3v1.3h-1.3zM459.71 280.94h1.3v1.3h-1.3zM459.71 295.31h1.3v1.3h-1.3zM459.71 309.68h1.3v1.3h-1.3zM459.71 324.05h1.3v1.3h-1.3zM459.71 338.42h1.3v1.3h-1.3zM459.71 352.79h1.3v1.3h-1.3zM459.71 367.16h1.3v1.3h-1.3zM459.71 381.53h1.3v1.3h-1.3zM459.71 395.9h1.3v1.3h-1.3zM459.71 410.27h1.3v1.3h-1.3zM474.08 7.91h1.3v1.3h-1.3zM474.08 22.28h1.3v1.3h-1.3zM474.08 36.65h1.3v1.3h-1.3zM474.08 51.02h1.3v1.3h-1.3zM474.08 65.39h1.3v1.3h-1.3zM474.08 79.76h1.3v1.3h-1.3zM474.08 94.13h1.3v1.3h-1.3zM474.08 108.5h1.3v1.3h-1.3zM474.08 122.87h1.3v1.3h-1.3zM474.08 137.24h1.3v1.3h-1.3zM474.08 151.61h1.3v1.3h-1.3zM474.08 165.98h1.3v1.3h-1.3zM474.08 180.35h1.3v1.3h-1.3zM474.08 194.72h1.3v1.3h-1.3zM474.08 209.09h1.3v1.3h-1.3zM474.08 223.46h1.3v1.3h-1.3zM474.08 237.83h1.3v1.3h-1.3zM474.08 252.2h1.3v1.3h-1.3zM474.08 266.57h1.3v1.3h-1.3zM474.08 280.94h1.3v1.3h-1.3zM474.08 295.31h1.3v1.3h-1.3zM474.08 309.68h1.3v1.3h-1.3zM474.08 324.05h1.3v1.3h-1.3zM474.08 338.42h1.3v1.3h-1.3zM474.08 352.79h1.3v1.3h-1.3zM474.08 367.16h1.3v1.3h-1.3zM474.08 381.53h1.3v1.3h-1.3zM474.08 395.9h1.3v1.3h-1.3zM474.08 410.27h1.3v1.3h-1.3zM488.45 7.91h1.3v1.3h-1.3zM488.45 22.28h1.3v1.3h-1.3zM488.45 36.65h1.3v1.3h-1.3zM488.45 51.02h1.3v1.3h-1.3zM488.45 65.39h1.3v1.3h-1.3zM488.45 79.76h1.3v1.3h-1.3zM488.45 94.13h1.3v1.3h-1.3zM488.45 108.5h1.3v1.3h-1.3zM488.45 122.87h1.3v1.3h-1.3zM488.45 137.24h1.3v1.3h-1.3zM488.45 151.61h1.3v1.3h-1.3zM488.45 165.98h1.3v1.3h-1.3zM488.45 180.35h1.3v1.3h-1.3zM488.45 194.72h1.3v1.3h-1.3zM488.45 209.09h1.3v1.3h-1.3zM488.45 223.46h1.3v1.3h-1.3zM488.45 237.83h1.3v1.3h-1.3zM488.45 252.2h1.3v1.3h-1.3zM488.45 266.57h1.3v1.3h-1.3zM488.45 280.94h1.3v1.3h-1.3zM488.45 295.31h1.3v1.3h-1.3zM488.45 309.68h1.3v1.3h-1.3zM488.45 324.05h1.3v1.3h-1.3zM488.45 338.42h1.3v1.3h-1.3zM488.45 352.79h1.3v1.3h-1.3zM488.45 367.16h1.3v1.3h-1.3zM488.45 381.53h1.3v1.3h-1.3zM488.45 395.9h1.3v1.3h-1.3zM488.45 410.27h1.3v1.3h-1.3zM502.82 7.91h1.3v1.3h-1.3zM502.82 22.28h1.3v1.3h-1.3zM502.82 36.65h1.3v1.3h-1.3zM502.82 51.02h1.3v1.3h-1.3zM502.82 65.39h1.3v1.3h-1.3zM502.82 79.76h1.3v1.3h-1.3zM502.82 94.13h1.3v1.3h-1.3zM502.82 108.5h1.3v1.3h-1.3zM502.82 122.87h1.3v1.3h-1.3zM502.82 137.24h1.3v1.3h-1.3zM502.82 151.61h1.3v1.3h-1.3zM502.82 165.98h1.3v1.3h-1.3zM502.82 180.35h1.3v1.3h-1.3zM502.82 194.72h1.3v1.3h-1.3zM502.82 209.09h1.3v1.3h-1.3zM502.82 223.46h1.3v1.3h-1.3zM502.82 237.83h1.3v1.3h-1.3zM502.82 252.2h1.3v1.3h-1.3zM502.82 266.57h1.3v1.3h-1.3zM502.82 280.94h1.3v1.3h-1.3zM502.82 295.31h1.3v1.3h-1.3zM502.82 309.68h1.3v1.3h-1.3zM502.82 324.05h1.3v1.3h-1.3zM502.82 338.42h1.3v1.3h-1.3zM502.82 352.79h1.3v1.3h-1.3zM502.82 367.16h1.3v1.3h-1.3zM502.82 381.53h1.3v1.3h-1.3zM502.82 395.9h1.3v1.3h-1.3zM502.82 410.27h1.3v1.3h-1.3zM517.19 7.91h1.3v1.3h-1.3zM517.19 22.28h1.3v1.3h-1.3zM517.19 36.65h1.3v1.3h-1.3zM517.19 51.02h1.3v1.3h-1.3zM517.19 65.39h1.3v1.3h-1.3zM517.19 79.76h1.3v1.3h-1.3zM517.19 94.13h1.3v1.3h-1.3zM517.19 108.5h1.3v1.3h-1.3zM517.19 122.87h1.3v1.3h-1.3zM517.19 137.24h1.3v1.3h-1.3zM517.19 151.61h1.3v1.3h-1.3zM517.19 165.98h1.3v1.3h-1.3zM517.19 180.35h1.3v1.3h-1.3zM517.19 194.72h1.3v1.3h-1.3zM517.19 209.09h1.3v1.3h-1.3zM517.19 223.46h1.3v1.3h-1.3zM517.19 237.83h1.3v1.3h-1.3zM517.19 252.2h1.3v1.3h-1.3zM517.19 266.57h1.3v1.3h-1.3zM517.19 280.94h1.3v1.3h-1.3zM517.19 295.31h1.3v1.3h-1.3zM517.19 309.68h1.3v1.3h-1.3zM517.19 324.05h1.3v1.3h-1.3zM517.19 338.42h1.3v1.3h-1.3zM517.19 352.79h1.3v1.3h-1.3zM517.19 367.16h1.3v1.3h-1.3zM517.19 381.53h1.3v1.3h-1.3zM517.19 395.9h1.3v1.3h-1.3zM517.19 410.27h1.3v1.3h-1.3zM531.56 7.91h1.3v1.3h-1.3zM531.56 22.28h1.3v1.3h-1.3zM531.56 51.02h1.3v1.3h-1.3zM531.56 65.39h1.3v1.3h-1.3zM531.56 79.76h1.3v1.3h-1.3zM531.56 94.13h1.3v1.3h-1.3zM531.56 108.5h1.3v1.3h-1.3zM531.56 122.87h1.3v1.3h-1.3zM531.56 137.24h1.3v1.3h-1.3zM531.56 165.98h1.3v1.3h-1.3zM531.56 180.35h1.3v1.3h-1.3zM531.56 194.72h1.3v1.3h-1.3zM531.56 209.09h1.3v1.3h-1.3zM531.56 223.46h1.3v1.3h-1.3zM531.56 237.83h1.3v1.3h-1.3zM531.56 252.2h1.3v1.3h-1.3zM531.56 280.94h1.3v1.3h-1.3zM531.56 295.31h1.3v1.3h-1.3zM531.56 309.68h1.3v1.3h-1.3zM531.56 324.05h1.3v1.3h-1.3zM531.56 338.42h1.3v1.3h-1.3zM531.56 352.79h1.3v1.3h-1.3zM531.56 367.16h1.3v1.3h-1.3zM531.56 395.9h1.3v1.3h-1.3zM531.56 410.27h1.3v1.3h-1.3zM545.93 7.91h1.3v1.3h-1.3zM545.93 22.28h1.3v1.3h-1.3zM545.93 36.65h1.3v1.3h-1.3zM545.93 51.02h1.3v1.3h-1.3zM545.93 65.39h1.3v1.3h-1.3zM545.93 79.76h1.3v1.3h-1.3zM545.93 94.13h1.3v1.3h-1.3zM545.93 108.5h1.3v1.3h-1.3zM545.93 122.87h1.3v1.3h-1.3zM545.93 137.24h1.3v1.3h-1.3zM545.93 151.61h1.3v1.3h-1.3zM545.93 165.98h1.3v1.3h-1.3zM545.93 180.35h1.3v1.3h-1.3zM545.93 194.72h1.3v1.3h-1.3zM545.93 209.09h1.3v1.3h-1.3zM545.93 223.46h1.3v1.3h-1.3zM545.93 237.83h1.3v1.3h-1.3zM545.93 252.2h1.3v1.3h-1.3zM545.93 266.57h1.3v1.3h-1.3zM545.93 280.94h1.3v1.3h-1.3zM545.93 295.31h1.3v1.3h-1.3zM545.93 309.68h1.3v1.3h-1.3zM545.93 324.05h1.3v1.3h-1.3zM545.93 338.42h1.3v1.3h-1.3zM545.93 352.79h1.3v1.3h-1.3zM545.93 367.16h1.3v1.3h-1.3zM545.93 381.53h1.3v1.3h-1.3zM545.93 395.9h1.3v1.3h-1.3zM545.93 410.27h1.3v1.3h-1.3zM560.3 7.91h1.3v1.3h-1.3zM560.3 22.28h1.3v1.3h-1.3zM560.3 36.65h1.3v1.3h-1.3zM560.3 51.02h1.3v1.3h-1.3zM560.3 65.39h1.3v1.3h-1.3zM560.3 79.76h1.3v1.3h-1.3zM560.3 94.13h1.3v1.3h-1.3zM560.3 108.5h1.3v1.3h-1.3zM560.3 122.87h1.3v1.3h-1.3zM560.3 137.24h1.3v1.3h-1.3zM560.3 151.61h1.3v1.3h-1.3zM560.3 165.98h1.3v1.3h-1.3zM560.3 180.35h1.3v1.3h-1.3zM560.3 194.72h1.3v1.3h-1.3zM560.3 209.09h1.3v1.3h-1.3zM560.3 223.46h1.3v1.3h-1.3zM560.3 237.83h1.3v1.3h-1.3zM560.3 252.2h1.3v1.3h-1.3zM560.3 266.57h1.3v1.3h-1.3zM560.3 280.94h1.3v1.3h-1.3zM560.3 295.31h1.3v1.3h-1.3zM560.3 309.68h1.3v1.3h-1.3zM560.3 324.05h1.3v1.3h-1.3zM560.3 338.42h1.3v1.3h-1.3zM560.3 352.79h1.3v1.3h-1.3zM560.3 367.16h1.3v1.3h-1.3zM560.3 381.53h1.3v1.3h-1.3zM560.3 395.9h1.3v1.3h-1.3zM560.3 410.27h1.3v1.3h-1.3zM574.67 7.91h1.3v1.3h-1.3zM574.67 22.28h1.3v1.3h-1.3zM574.67 36.65h1.3v1.3h-1.3zM574.67 51.02h1.3v1.3h-1.3zM574.67 65.39h1.3v1.3h-1.3zM574.67 79.76h1.3v1.3h-1.3zM574.67 94.13h1.3v1.3h-1.3zM574.67 108.5h1.3v1.3h-1.3zM574.67 122.87h1.3v1.3h-1.3zM574.67 137.24h1.3v1.3h-1.3zM574.67 151.61h1.3v1.3h-1.3zM574.67 165.98h1.3v1.3h-1.3zM574.67 180.35h1.3v1.3h-1.3zM574.67 194.72h1.3v1.3h-1.3zM574.67 209.09h1.3v1.3h-1.3zM574.67 223.46h1.3v1.3h-1.3zM574.67 237.83h1.3v1.3h-1.3zM574.67 252.2h1.3v1.3h-1.3zM574.67 266.57h1.3v1.3h-1.3zM574.67 280.94h1.3v1.3h-1.3zM574.67 295.31h1.3v1.3h-1.3zM574.67 309.68h1.3v1.3h-1.3zM574.67 324.05h1.3v1.3h-1.3zM574.67 338.42h1.3v1.3h-1.3zM574.67 352.79h1.3v1.3h-1.3zM574.67 367.16h1.3v1.3h-1.3zM574.67 381.53h1.3v1.3h-1.3zM574.67 395.9h1.3v1.3h-1.3zM574.67 410.27h1.3v1.3h-1.3zM589.04 7.91h1.3v1.3h-1.3zM589.04 22.28h1.3v1.3h-1.3zM589.04 36.65h1.3v1.3h-1.3zM589.04 51.02h1.3v1.3h-1.3zM589.04 65.39h1.3v1.3h-1.3zM589.04 79.76h1.3v1.3h-1.3zM589.04 94.13h1.3v1.3h-1.3zM589.04 108.5h1.3v1.3h-1.3zM589.04 122.87h1.3v1.3h-1.3zM589.04 137.24h1.3v1.3h-1.3zM589.04 151.61h1.3v1.3h-1.3zM589.04 165.98h1.3v1.3h-1.3zM589.04 180.35h1.3v1.3h-1.3zM589.04 194.72h1.3v1.3h-1.3zM589.04 209.09h1.3v1.3h-1.3zM589.04 223.46h1.3v1.3h-1.3zM589.04 237.83h1.3v1.3h-1.3zM589.04 252.2h1.3v1.3h-1.3zM589.04 266.57h1.3v1.3h-1.3zM589.04 280.94h1.3v1.3h-1.3zM589.04 295.31h1.3v1.3h-1.3zM589.04 309.68h1.3v1.3h-1.3zM589.04 324.05h1.3v1.3h-1.3zM589.04 338.42h1.3v1.3h-1.3zM589.04 352.79h1.3v1.3h-1.3zM589.04 367.16h1.3v1.3h-1.3zM589.04 381.53h1.3v1.3h-1.3zM589.04 395.9h1.3v1.3h-1.3zM589.04 410.27h1.3v1.3h-1.3zM603.41 7.91h1.3v1.3h-1.3zM603.41 22.28h1.3v1.3h-1.3zM603.41 36.65h1.3v1.3h-1.3zM603.41 51.02h1.3v1.3h-1.3zM603.41 65.39h1.3v1.3h-1.3zM603.41 79.76h1.3v1.3h-1.3zM603.41 94.13h1.3v1.3h-1.3zM603.41 108.5h1.3v1.3h-1.3zM603.41 122.87h1.3v1.3h-1.3zM603.41 137.24h1.3v1.3h-1.3zM603.41 151.61h1.3v1.3h-1.3zM603.41 165.98h1.3v1.3h-1.3zM603.41 180.35h1.3v1.3h-1.3zM603.41 194.72h1.3v1.3h-1.3zM603.41 209.09h1.3v1.3h-1.3zM603.41 223.46h1.3v1.3h-1.3zM603.41 237.83h1.3v1.3h-1.3zM603.41 252.2h1.3v1.3h-1.3zM603.41 266.57h1.3v1.3h-1.3zM603.41 280.94h1.3v1.3h-1.3zM603.41 295.31h1.3v1.3h-1.3zM603.41 309.68h1.3v1.3h-1.3zM603.41 324.05h1.3v1.3h-1.3zM603.41 338.42h1.3v1.3h-1.3zM603.41 352.79h1.3v1.3h-1.3zM603.41 367.16h1.3v1.3h-1.3zM603.41 381.53h1.3v1.3h-1.3zM603.41 395.9h1.3v1.3h-1.3zM603.41 410.27h1.3v1.3h-1.3zM617.78 7.91h1.3v1.3h-1.3zM617.78 22.28h1.3v1.3h-1.3zM617.78 36.65h1.3v1.3h-1.3zM617.78 51.02h1.3v1.3h-1.3zM617.78 65.39h1.3v1.3h-1.3zM617.78 79.76h1.3v1.3h-1.3zM617.78 94.13h1.3v1.3h-1.3zM617.78 108.5h1.3v1.3h-1.3zM617.78 122.87h1.3v1.3h-1.3zM617.78 137.24h1.3v1.3h-1.3zM617.78 151.61h1.3v1.3h-1.3zM617.78 165.98h1.3v1.3h-1.3zM617.78 180.35h1.3v1.3h-1.3zM617.78 194.72h1.3v1.3h-1.3zM617.78 209.09h1.3v1.3h-1.3zM617.78 223.46h1.3v1.3h-1.3zM617.78 237.83h1.3v1.3h-1.3zM617.78 252.2h1.3v1.3h-1.3zM617.78 266.57h1.3v1.3h-1.3zM617.78 280.94h1.3v1.3h-1.3zM617.78 295.31h1.3v1.3h-1.3zM617.78 309.68h1.3v1.3h-1.3zM617.78 324.05h1.3v1.3h-1.3zM617.78 338.42h1.3v1.3h-1.3zM617.78 352.79h1.3v1.3h-1.3zM617.78 367.16h1.3v1.3h-1.3zM617.78 381.53h1.3v1.3h-1.3zM617.78 395.9h1.3v1.3h-1.3zM617.78 410.27h1.3v1.3h-1.3zM632.15 7.91h1.3v1.3h-1.3zM632.15 22.28h1.3v1.3h-1.3zM632.15 36.65h1.3v1.3h-1.3zM632.15 51.02h1.3v1.3h-1.3zM632.15 65.39h1.3v1.3h-1.3zM632.15 79.76h1.3v1.3h-1.3zM632.15 94.13h1.3v1.3h-1.3zM632.15 108.5h1.3v1.3h-1.3zM632.15 122.87h1.3v1.3h-1.3zM632.15 137.24h1.3v1.3h-1.3zM632.15 151.61h1.3v1.3h-1.3zM632.15 165.98h1.3v1.3h-1.3zM632.15 180.35h1.3v1.3h-1.3zM632.15 194.72h1.3v1.3h-1.3zM632.15 209.09h1.3v1.3h-1.3zM632.15 223.46h1.3v1.3h-1.3zM632.15 237.83h1.3v1.3h-1.3zM632.15 252.2h1.3v1.3h-1.3zM632.15 266.57h1.3v1.3h-1.3zM632.15 280.94h1.3v1.3h-1.3zM632.15 295.31h1.3v1.3h-1.3zM632.15 309.68h1.3v1.3h-1.3zM632.15 324.05h1.3v1.3h-1.3zM632.15 338.42h1.3v1.3h-1.3zM632.15 352.79h1.3v1.3h-1.3zM632.15 367.16h1.3v1.3h-1.3zM632.15 381.53h1.3v1.3h-1.3zM632.15 395.9h1.3v1.3h-1.3zM632.15 410.27h1.3v1.3h-1.3zM646.52 7.91h1.3v1.3h-1.3zM646.52 22.28h1.3v1.3h-1.3zM646.52 51.02h1.3v1.3h-1.3zM646.52 65.39h1.3v1.3h-1.3zM646.52 79.76h1.3v1.3h-1.3zM646.52 94.13h1.3v1.3h-1.3zM646.52 108.5h1.3v1.3h-1.3zM646.52 122.87h1.3v1.3h-1.3zM646.52 137.24h1.3v1.3h-1.3zM646.52 165.98h1.3v1.3h-1.3zM646.52 180.35h1.3v1.3h-1.3zM646.52 194.72h1.3v1.3h-1.3zM646.52 209.09h1.3v1.3h-1.3zM646.52 223.46h1.3v1.3h-1.3zM646.52 237.83h1.3v1.3h-1.3zM646.52 252.2h1.3v1.3h-1.3zM646.52 280.94h1.3v1.3h-1.3zM646.52 295.31h1.3v1.3h-1.3zM646.52 309.68h1.3v1.3h-1.3zM646.52 324.05h1.3v1.3h-1.3zM646.52 338.42h1.3v1.3h-1.3zM646.52 352.79h1.3v1.3h-1.3zM646.52 367.16h1.3v1.3h-1.3zM646.52 395.9h1.3v1.3h-1.3zM646.52 410.27h1.3v1.3h-1.3zM660.89 7.91h1.3v1.3h-1.3zM660.89 22.28h1.3v1.3h-1.3zM660.89 36.65h1.3v1.3h-1.3zM660.89 51.02h1.3v1.3h-1.3zM660.89 65.39h1.3v1.3h-1.3zM660.89 79.76h1.3v1.3h-1.3zM660.89 94.13h1.3v1.3h-1.3zM660.89 108.5h1.3v1.3h-1.3zM660.89 122.87h1.3v1.3h-1.3zM660.89 137.24h1.3v1.3h-1.3zM660.89 151.61h1.3v1.3h-1.3zM660.89 165.98h1.3v1.3h-1.3zM660.89 180.35h1.3v1.3h-1.3zM660.89 194.72h1.3v1.3h-1.3zM660.89 209.09h1.3v1.3h-1.3zM660.89 223.46h1.3v1.3h-1.3zM660.89 237.83h1.3v1.3h-1.3zM660.89 252.2h1.3v1.3h-1.3zM660.89 266.57h1.3v1.3h-1.3zM660.89 280.94h1.3v1.3h-1.3zM660.89 295.31h1.3v1.3h-1.3zM660.89 309.68h1.3v1.3h-1.3zM660.89 324.05h1.3v1.3h-1.3zM660.89 338.42h1.3v1.3h-1.3zM660.89 352.79h1.3v1.3h-1.3zM660.89 367.16h1.3v1.3h-1.3zM660.89 381.53h1.3v1.3h-1.3zM660.89 395.9h1.3v1.3h-1.3zM660.89 410.27h1.3v1.3h-1.3zM675.26 7.91h1.3v1.3h-1.3zM675.26 22.28h1.3v1.3h-1.3zM675.26 36.65h1.3v1.3h-1.3zM675.26 51.02h1.3v1.3h-1.3zM675.26 65.39h1.3v1.3h-1.3zM675.26 79.76h1.3v1.3h-1.3zM675.26 94.13h1.3v1.3h-1.3zM675.26 108.5h1.3v1.3h-1.3zM675.26 122.87h1.3v1.3h-1.3zM675.26 137.24h1.3v1.3h-1.3zM675.26 151.61h1.3v1.3h-1.3zM675.26 165.98h1.3v1.3h-1.3zM675.26 180.35h1.3v1.3h-1.3zM675.26 194.72h1.3v1.3h-1.3zM675.26 209.09h1.3v1.3h-1.3zM675.26 223.46h1.3v1.3h-1.3zM675.26 237.83h1.3v1.3h-1.3zM675.26 252.2h1.3v1.3h-1.3zM675.26 266.57h1.3v1.3h-1.3zM675.26 280.94h1.3v1.3h-1.3zM675.26 295.31h1.3v1.3h-1.3zM675.26 309.68h1.3v1.3h-1.3zM675.26 324.05h1.3v1.3h-1.3zM675.26 338.42h1.3v1.3h-1.3zM675.26 352.79h1.3v1.3h-1.3zM675.26 367.16h1.3v1.3h-1.3zM675.26 381.53h1.3v1.3h-1.3zM675.26 395.9h1.3v1.3h-1.3zM675.26 410.27h1.3v1.3h-1.3zM689.63 7.91h1.3v1.3h-1.3zM689.63 22.28h1.3v1.3h-1.3zM689.63 36.65h1.3v1.3h-1.3zM689.63 51.02h1.3v1.3h-1.3zM689.63 65.39h1.3v1.3h-1.3zM689.63 79.76h1.3v1.3h-1.3zM689.63 94.13h1.3v1.3h-1.3zM689.63 108.5h1.3v1.3h-1.3zM689.63 122.87h1.3v1.3h-1.3zM689.63 137.24h1.3v1.3h-1.3zM689.63 151.61h1.3v1.3h-1.3zM689.63 165.98h1.3v1.3h-1.3zM689.63 180.35h1.3v1.3h-1.3zM689.63 194.72h1.3v1.3h-1.3zM689.63 209.09h1.3v1.3h-1.3zM689.63 223.46h1.3v1.3h-1.3zM689.63 237.83h1.3v1.3h-1.3zM689.63 252.2h1.3v1.3h-1.3zM689.63 266.57h1.3v1.3h-1.3zM689.63 280.94h1.3v1.3h-1.3zM689.63 295.31h1.3v1.3h-1.3zM689.63 309.68h1.3v1.3h-1.3zM689.63 324.05h1.3v1.3h-1.3zM689.63 338.42h1.3v1.3h-1.3zM689.63 352.79h1.3v1.3h-1.3zM689.63 367.16h1.3v1.3h-1.3zM689.63 381.53h1.3v1.3h-1.3zM689.63 395.9h1.3v1.3h-1.3zM689.63 410.27h1.3v1.3h-1.3zM704 7.91h1.3v1.3h-1.3zM704 22.28h1.3v1.3h-1.3zM704 36.65h1.3v1.3h-1.3zM704 51.02h1.3v1.3h-1.3zM704 65.39h1.3v1.3h-1.3zM704 79.76h1.3v1.3h-1.3zM704 94.13h1.3v1.3h-1.3zM704 108.5h1.3v1.3h-1.3zM704 122.87h1.3v1.3h-1.3zM704 137.24h1.3v1.3h-1.3zM704 151.61h1.3v1.3h-1.3zM704 165.98h1.3v1.3h-1.3zM704 180.35h1.3v1.3h-1.3zM704 194.72h1.3v1.3h-1.3zM704 209.09h1.3v1.3h-1.3zM704 223.46h1.3v1.3h-1.3zM704 237.83h1.3v1.3h-1.3zM704 252.2h1.3v1.3h-1.3zM704 266.57h1.3v1.3h-1.3zM704 280.94h1.3v1.3h-1.3zM704 295.31h1.3v1.3h-1.3zM704 309.68h1.3v1.3h-1.3zM704 324.05h1.3v1.3h-1.3zM704 338.42h1.3v1.3h-1.3zM704 352.79h1.3v1.3h-1.3zM704 367.16h1.3v1.3h-1.3zM704 381.53h1.3v1.3h-1.3zM704 395.9h1.3v1.3h-1.3zM704 410.27h1.3v1.3h-1.3zM718.37 7.91h1.3v1.3h-1.3zM718.37 22.28h1.3v1.3h-1.3zM718.37 36.65h1.3v1.3h-1.3zM718.37 51.02h1.3v1.3h-1.3zM718.37 65.39h1.3v1.3h-1.3zM718.37 79.76h1.3v1.3h-1.3zM718.37 94.13h1.3v1.3h-1.3zM718.37 108.5h1.3v1.3h-1.3zM718.37 122.87h1.3v1.3h-1.3zM718.37 137.24h1.3v1.3h-1.3zM718.37 151.61h1.3v1.3h-1.3zM718.37 165.98h1.3v1.3h-1.3zM718.37 180.35h1.3v1.3h-1.3zM718.37 194.72h1.3v1.3h-1.3zM718.37 209.09h1.3v1.3h-1.3zM718.37 223.46h1.3v1.3h-1.3zM718.37 237.83h1.3v1.3h-1.3zM718.37 252.2h1.3v1.3h-1.3zM718.37 266.57h1.3v1.3h-1.3zM718.37 280.94h1.3v1.3h-1.3zM718.37 295.31h1.3v1.3h-1.3zM718.37 309.68h1.3v1.3h-1.3zM718.37 324.05h1.3v1.3h-1.3zM718.37 338.42h1.3v1.3h-1.3zM718.37 352.79h1.3v1.3h-1.3zM718.37 367.16h1.3v1.3h-1.3zM718.37 381.53h1.3v1.3h-1.3zM718.37 395.9h1.3v1.3h-1.3zM718.37 410.27h1.3v1.3h-1.3zM732.74 7.91h1.3v1.3h-1.3zM732.74 22.28h1.3v1.3h-1.3zM732.74 36.65h1.3v1.3h-1.3zM732.74 51.02h1.3v1.3h-1.3zM732.74 65.39h1.3v1.3h-1.3zM732.74 79.76h1.3v1.3h-1.3zM732.74 94.13h1.3v1.3h-1.3zM732.74 108.5h1.3v1.3h-1.3zM732.74 122.87h1.3v1.3h-1.3zM732.74 137.24h1.3v1.3h-1.3zM732.74 151.61h1.3v1.3h-1.3zM732.74 165.98h1.3v1.3h-1.3zM732.74 180.35h1.3v1.3h-1.3zM732.74 194.72h1.3v1.3h-1.3zM732.74 209.09h1.3v1.3h-1.3zM732.74 223.46h1.3v1.3h-1.3zM732.74 237.83h1.3v1.3h-1.3zM732.74 252.2h1.3v1.3h-1.3zM732.74 266.57h1.3v1.3h-1.3zM732.74 280.94h1.3v1.3h-1.3zM732.74 295.31h1.3v1.3h-1.3zM732.74 309.68h1.3v1.3h-1.3zM732.74 324.05h1.3v1.3h-1.3zM732.74 338.42h1.3v1.3h-1.3zM732.74 352.79h1.3v1.3h-1.3zM732.74 367.16h1.3v1.3h-1.3zM732.74 381.53h1.3v1.3h-1.3zM732.74 395.9h1.3v1.3h-1.3zM732.74 410.27h1.3v1.3h-1.3zM747.11 7.91h1.3v1.3h-1.3zM747.11 22.28h1.3v1.3h-1.3zM747.11 36.65h1.3v1.3h-1.3zM747.11 51.02h1.3v1.3h-1.3zM747.11 65.39h1.3v1.3h-1.3zM747.11 79.76h1.3v1.3h-1.3zM747.11 94.13h1.3v1.3h-1.3zM747.11 108.5h1.3v1.3h-1.3zM747.11 122.87h1.3v1.3h-1.3zM747.11 137.24h1.3v1.3h-1.3zM747.11 151.61h1.3v1.3h-1.3zM747.11 165.98h1.3v1.3h-1.3zM747.11 180.35h1.3v1.3h-1.3zM747.11 194.72h1.3v1.3h-1.3zM747.11 209.09h1.3v1.3h-1.3zM747.11 223.46h1.3v1.3h-1.3zM747.11 237.83h1.3v1.3h-1.3zM747.11 252.2h1.3v1.3h-1.3zM747.11 266.57h1.3v1.3h-1.3zM747.11 280.94h1.3v1.3h-1.3zM747.11 295.31h1.3v1.3h-1.3zM747.11 309.68h1.3v1.3h-1.3zM747.11 324.05h1.3v1.3h-1.3zM747.11 338.42h1.3v1.3h-1.3zM747.11 352.79h1.3v1.3h-1.3zM747.11 367.16h1.3v1.3h-1.3zM747.11 381.53h1.3v1.3h-1.3zM747.11 395.9h1.3v1.3h-1.3zM747.11 410.27h1.3v1.3h-1.3zM761.48 7.91h1.3v1.3h-1.3zM761.48 22.28h1.3v1.3h-1.3zM761.48 51.02h1.3v1.3h-1.3zM761.48 65.39h1.3v1.3h-1.3zM761.48 79.76h1.3v1.3h-1.3zM761.48 94.13h1.3v1.3h-1.3zM761.48 108.5h1.3v1.3h-1.3zM761.48 122.87h1.3v1.3h-1.3zM761.48 137.24h1.3v1.3h-1.3zM761.48 165.98h1.3v1.3h-1.3zM761.48 180.35h1.3v1.3h-1.3zM761.48 194.72h1.3v1.3h-1.3zM761.48 209.09h1.3v1.3h-1.3zM761.48 223.46h1.3v1.3h-1.3zM761.48 237.83h1.3v1.3h-1.3zM761.48 252.2h1.3v1.3h-1.3zM761.48 280.94h1.3v1.3h-1.3zM761.48 295.31h1.3v1.3h-1.3zM761.48 309.68h1.3v1.3h-1.3zM761.48 324.05h1.3v1.3h-1.3zM761.48 338.42h1.3v1.3h-1.3zM761.48 352.79h1.3v1.3h-1.3zM761.48 367.16h1.3v1.3h-1.3zM761.48 395.9h1.3v1.3h-1.3zM761.48 410.27h1.3v1.3h-1.3z"/>
<path fill="#ffffff" d="M71.37 36.3h2v2h-2zM71.37 151.26h2v2h-2zM71.37 266.22h2v2h-2zM71.37 381.18h2v2h-2zM186.33 36.3h2v2h-2zM186.33 151.26h2v2h-2zM186.33 266.22h2v2h-2zM186.33 381.18h2v2h-2zM301.29 36.3h2v2h-2zM301.29 151.26h2v2h-2zM301.29 266.22h2v2h-2zM301.29 381.18h2v2h-2zM416.25 36.3h2v2h-2zM416.25 151.26h2v2h-2zM416.25 266.22h2v2h-2zM416.25 381.18h2v2h-2zM531.21 36.3h2v2h-2zM531.21 151.26h2v2h-2zM531.21 266.22h2v2h-2zM531.21 381.18h2v2h-2zM646.17 36.3h2v2h-2zM646.17 151.26h2v2h-2zM646.17 266.22h2v2h-2zM646.17 381.18h2v2h-2zM761.13 36.3h2v2h-2zM761.13 151.26h2v2h-2zM761.13 266.22h2v2h-2zM761.13 381.18h2v2h-2z"/></g>
<g id="symbols" fill="none" stroke="#10b254" stroke-width="1.3" stroke-linejoin="miter">
<path d="M58.45 101.76V112.63H72.37V134.23H58.45V144.88M58.45 123.43H72.37M76.11 112.63V134.23M180.3 101.76V112.63H165.77V134.23H180.3V144.88M180.3 123.43H165.77M162.04 112.63V134.23M58.45 209.25V220.43H72.37V242.03H58.45V252.65M58.45 231.23H72.37M76.11 220.43V242.03M180.3 209.25V220.43H165.77V242.03H180.3V252.65M180.3 231.23H165.77M162.04 220.43V242.03M58.45 310.13V321H72.37V342.6H58.45V353.24M58.45 331.8H72.37M76.11 321V342.6M76.11 331.8H86.83M180.3 310.13V321H165.77V342.6H180.3V353.24M180.3 331.8H165.77M162.04 321V342.6M162.04 331.8H151.5M280.75 51.47V62.6H295.11V84.2H280.75V94.58M280.75 73.4H295.11M298.84 62.6V84.2M431.5 51.47V62.6H417.25V84.2H431.5V94.58M431.5 73.4H417.25M413.51 62.6V84.2M360 310.13V321H345.4V342.6H360V353.24M360 331.8H345.4M341.66 321V342.6M341.66 331.8H330.8M625.85 116V127.1H611.25V148.7H625.85V159.25M625.85 137.9H611.25M607.51 127.1V148.7M625.85 310.13V321H611.25V342.6H625.85V353.24M625.85 331.8H611.25M607.51 321V342.6M607.51 331.8H596.97M280.75 180.8V191.86H266.37V213.46H280.75V223.91M280.75 202.66H266.37M262.63 191.86V213.46M262.63 202.66H252.09M431.5 180.8V191.86H445.99V213.46H431.5V223.91M431.5 202.66H445.99M449.73 191.86V213.46M449.73 202.66H460.45M503.56 188H514.5V202.4H536.5V188H546.67M525.5 188V202.4M514.5 205.4H536.5M546.67 188H562M562 180.4V195.6M569.6 180.4Q562.6 188 569.6 195.6M566.1 188H589.78M683.16 245.07V261.4M675.36 261.4H690.96M675.36 268.4Q683.16 261.8 690.96 268.4M683.16 265.2V288.56"/>
<path stroke-width="1.05" d="M59.95 109.13L65.45 112.63L59.95 116.33M177.5 109.13L172 112.63L177.5 116.33M59.95 216.93L65.45 220.43L59.95 224.13M177.5 216.93L172 220.43L177.5 224.13M65.25 339.1L58.75 342.6L63.45 346M173 339.1L179.5 342.6L174.8 346M282.25 59.1L287.75 62.6L282.25 66.3M428.7 59.1L423.2 62.6L428.7 66.3M352.7 339.1L359.2 342.6L354.5 346M623.05 123.6L617.55 127.1L623.05 130.8M618.55 339.1L625.05 342.6L620.35 346M273.45 209.96L279.95 213.46L275.25 216.86M438.3 209.96L431.8 213.46L436.5 216.86M510.9 190L514.5 195.4L518.5 190.2"/>
<path stroke-width="1.1" stroke-linejoin="bevel" d="M58.45 37.1 L58.45 45 L65.15 47.6 L51.25 51.95 L65.15 56.3 L51.25 60.7 L65.15 65.1 L51.25 69.4 L58.45 71.4 L58.45 80.21"/>
<circle stroke-width="1.05" cx="79.41" cy="123.43" r="2.7"/>
<circle stroke-width="1.05" cx="158.74" cy="123.43" r="2.7"/>
<circle stroke-width="1.05" cx="79.41" cy="231.23" r="2.7"/>
<circle stroke-width="1.05" cx="158.74" cy="231.23" r="2.7"/>
<circle stroke-width="1.05" cx="302.14" cy="73.4" r="2.7"/>
<circle stroke-width="1.05" cx="410.21" cy="73.4" r="2.7"/>
<circle stroke-width="1.05" cx="604.21" cy="137.9" r="2.7"/>
<circle stroke-width="1.05" cx="525.5" cy="208.8" r="2.7"/>
</g>
<g id="pin-labels" fill="#f0e2b8" stroke="#f0e2b8">
<text x="61.85" y="109.46" font-size="10" stroke-width="0" textLength="29.4" lengthAdjust="spacingAndGlyphs">net029</text>
<text x="61.85" y="145.28" font-size="10" stroke-width="0" textLength="29.4" lengthAdjust="spacingAndGlyphs">net037</text>
<text x="76.45" y="120.03" font-size="10" stroke-width="0" textLength="24" lengthAdjust="spacingAndGlyphs">net07</text>
<text x="29.95" y="126.93" font-size="10" stroke-width="0" textLength="21.8" lengthAdjust="spacingAndGlyphs">AVDD</text>
<text x="154" y="109.46" font-size="10" stroke-width="0" textLength="21.8" lengthAdjust="spacingAndGlyphs">AVDD</text>
<text x="151.5" y="145.28" font-size="10" stroke-width="0" textLength="24.1" lengthAdjust="spacingAndGlyphs">net07</text>
<text x="136.8" y="120.03" font-size="10" stroke-width="0" textLength="24" lengthAdjust="spacingAndGlyphs">net07</text>
<text x="186" y="126.93" font-size="10" stroke-width="0" textLength="22" lengthAdjust="spacingAndGlyphs">AVDD</text>
<text x="61.85" y="216.95" font-size="10" stroke-width="0" textLength="29.4" lengthAdjust="spacingAndGlyphs">net037</text>
<text x="61.85" y="253.05" font-size="10" stroke-width="0" textLength="17.1" lengthAdjust="spacingAndGlyphs">net1</text>
<text x="76.45" y="227.83" font-size="10" stroke-width="0" textLength="24" lengthAdjust="spacingAndGlyphs">net06</text>
<text x="29.95" y="234.73" font-size="10" stroke-width="0" textLength="21.8" lengthAdjust="spacingAndGlyphs">AVDD</text>
<text x="151.7" y="216.95" font-size="10" stroke-width="0" textLength="24.1" lengthAdjust="spacingAndGlyphs">net07</text>
<text x="151.5" y="253.05" font-size="10" stroke-width="0" textLength="24.1" lengthAdjust="spacingAndGlyphs">net06</text>
<text x="136.8" y="227.83" font-size="10" stroke-width="0" textLength="24" lengthAdjust="spacingAndGlyphs">net06</text>
<text x="186" y="234.73" font-size="10" stroke-width="0" textLength="22" lengthAdjust="spacingAndGlyphs">AVDD</text>
<text x="61.85" y="317.83" font-size="10" stroke-width="0" textLength="17.1" lengthAdjust="spacingAndGlyphs">net1</text>
<text x="61.85" y="353.64" font-size="10" stroke-width="0" textLength="21.2" lengthAdjust="spacingAndGlyphs">AVSS</text>
<text x="76.45" y="328.4" font-size="10" stroke-width="0" textLength="17.3" lengthAdjust="spacingAndGlyphs">net1</text>
<text x="30.25" y="335.3" font-size="10" stroke-width="0" textLength="21.5" lengthAdjust="spacingAndGlyphs">AVSS</text>
<text x="151.7" y="317.83" font-size="10" stroke-width="0" textLength="24.1" lengthAdjust="spacingAndGlyphs">net06</text>
<text x="154.7" y="353.64" font-size="10" stroke-width="0" textLength="21.5" lengthAdjust="spacingAndGlyphs">AVSS</text>
<text x="143.5" y="328.4" font-size="10" stroke-width="0" textLength="17.3" lengthAdjust="spacingAndGlyphs">net1</text>
<text x="186" y="335.3" font-size="10" stroke-width="0" textLength="21.7" lengthAdjust="spacingAndGlyphs">AVSS</text>
<text x="284.15" y="59.17" font-size="10" stroke-width="0" textLength="21.5" lengthAdjust="spacingAndGlyphs">AVDD</text>
<text x="284.15" y="94.98" font-size="10" stroke-width="0" textLength="18.2" lengthAdjust="spacingAndGlyphs">net9</text>
<text x="298.75" y="70" font-size="10" stroke-width="0" textLength="18.4" lengthAdjust="spacingAndGlyphs">net9</text>
<text x="252.25" y="76.9" font-size="10" stroke-width="0" textLength="21.8" lengthAdjust="spacingAndGlyphs">AVDD</text>
<text x="405.2" y="59.17" font-size="10" stroke-width="0" textLength="21.8" lengthAdjust="spacingAndGlyphs">AVDD</text>
<text x="397" y="94.98" font-size="10" stroke-width="0" textLength="29.8" lengthAdjust="spacingAndGlyphs">net028</text>
<text x="393.6" y="70" font-size="10" stroke-width="0" textLength="18.4" lengthAdjust="spacingAndGlyphs">net9</text>
<text x="437.2" y="76.9" font-size="10" stroke-width="0" textLength="22" lengthAdjust="spacingAndGlyphs">AVDD</text>
<text x="332.6" y="317.83" font-size="10" stroke-width="0" textLength="22.9" lengthAdjust="spacingAndGlyphs">net11</text>
<text x="334.4" y="353.64" font-size="10" stroke-width="0" textLength="21.5" lengthAdjust="spacingAndGlyphs">AVSS</text>
<text x="323.2" y="328.4" font-size="10" stroke-width="0" textLength="17.3" lengthAdjust="spacingAndGlyphs">net1</text>
<text x="365.7" y="335.3" font-size="10" stroke-width="0" textLength="21.7" lengthAdjust="spacingAndGlyphs">AVSS</text>
<text x="599.55" y="123.7" font-size="10" stroke-width="0" textLength="21.8" lengthAdjust="spacingAndGlyphs">AVDD</text>
<text x="599.85" y="159.65" font-size="10" stroke-width="0" textLength="21.3" lengthAdjust="spacingAndGlyphs">VOUT</text>
<text x="576.65" y="134.5" font-size="10" stroke-width="0" textLength="29.7" lengthAdjust="spacingAndGlyphs">net028</text>
<text x="631.55" y="141.4" font-size="10" stroke-width="0" textLength="22" lengthAdjust="spacingAndGlyphs">AVDD</text>
<text x="600.05" y="317.83" font-size="10" stroke-width="0" textLength="21.3" lengthAdjust="spacingAndGlyphs">VOUT</text>
<text x="600.25" y="353.64" font-size="10" stroke-width="0" textLength="21.5" lengthAdjust="spacingAndGlyphs">AVSS</text>
<text x="589.05" y="328.4" font-size="10" stroke-width="0" textLength="17.3" lengthAdjust="spacingAndGlyphs">net1</text>
<text x="631.55" y="335.3" font-size="10" stroke-width="0" textLength="21.7" lengthAdjust="spacingAndGlyphs">AVSS</text>
<text x="257.75" y="188.5" font-size="10" stroke-width="0" textLength="18.5" lengthAdjust="spacingAndGlyphs">net9</text>
<text x="253.75" y="224.31" font-size="10" stroke-width="0" textLength="22.9" lengthAdjust="spacingAndGlyphs">net11</text>
<text x="286.45" y="206.16" font-size="10" stroke-width="0" textLength="21.7" lengthAdjust="spacingAndGlyphs">AVSS</text>
<text x="242.2" y="198.3" font-size="10" fill-opacity="0.5" stroke-width="0" textLength="20.2" lengthAdjust="spacingAndGlyphs">VIN-</text>
<text x="434.9" y="188.5" font-size="10" stroke-width="0" textLength="29.5" lengthAdjust="spacingAndGlyphs">net028</text>
<text x="434.9" y="224.31" font-size="10" stroke-width="0" textLength="22.6" lengthAdjust="spacingAndGlyphs">net11</text>
<text x="449.5" y="199.26" font-size="10" stroke-width="0" textLength="20.4" lengthAdjust="spacingAndGlyphs">VIN+</text>
<text x="403.3" y="206.16" font-size="10" stroke-width="0" textLength="21.5" lengthAdjust="spacingAndGlyphs">AVSS</text>
<text transform="translate(528.6 182.9) rotate(-90)" font-size="9.3" stroke-width="0" textLength="21.6" lengthAdjust="spacingAndGlyphs">AVDD</text>
<text transform="translate(511.4 221.4) rotate(-90)" font-size="9.3" stroke-width="0" textLength="28.8" lengthAdjust="spacingAndGlyphs">net028</text>
<text transform="translate(521.5 230.4) rotate(-90)" font-size="9.3" stroke-width="0" textLength="23.4" lengthAdjust="spacingAndGlyphs">net06</text>
<text transform="translate(546.3 221.9) rotate(-90)" font-size="9.3" stroke-width="0" textLength="29.1" lengthAdjust="spacingAndGlyphs">net025</text>
</g>
<g id="wires"><path fill="none" stroke="#2a9bd3" stroke-width="1.3" stroke-linejoin="miter" stroke-linecap="butt" d="M58.45 15.45 L625.85 15.45 L625.85 116M58.45 15.45 L58.45 37.1M58.45 80.21 L58.45 101.76M58.45 144.88 L58.45 209.25M58.45 252.65 L58.45 310.13M58.45 353.24 L58.45 396.18M180.3 15.45 L180.3 101.76M180.3 144.88 L180.3 209.25M180.3 252.65 L180.3 310.13M180.3 353.24 L180.3 396.18M86.83 123.43 L151.5 123.43M129.6 123.43 L129.6 173.98 L180.3 173.98M86.83 231.23 L151.5 231.23M129.6 231.23 L129.6 281.1 L180.3 281.1M58.45 288.56 L108.35 288.56 L108.35 331.8M86.83 331.8 L151.5 331.8M129.6 331.8 L129.6 367.5 L567.9 367.5 L567.9 331.8 L596.97 331.8M288.3 367.5 L288.3 331.8 L330.8 331.8M22.17 123.43 L58.45 123.43M180.3 123.43 L216.16 123.43M22.17 231.23 L58.45 231.23M180.3 231.23 L216.16 231.23M22.17 331.8 L58.45 331.8M180.3 331.8 L216.16 331.8M273.64 73.4 L280.75 73.4M431.5 73.4 L467.63 73.4M280.75 202.66 L316.75 202.66M395.78 202.66 L431.5 202.66M625.85 137.9 L661.63 137.9M625.85 331.8 L661.63 331.8M360 331.8 L410.15 331.8M525.5 188 L525.5 152.06M280.75 15.45 L280.75 51.47M280.75 94.58 L280.75 180.8M280.75 223.91 L280.75 274.48 L431.5 274.48 L431.5 223.91M360 274.48 L360 310.13M360 353.24 L360 396.18M309.56 73.4 L402.97 73.4M330.8 73.4 L330.8 116 L280.75 116M431.5 15.45 L431.5 51.47M431.5 94.58 L431.5 180.8M431.5 137.9 L596.97 137.9M481.95 137.9 L481.95 188 L503.56 188M460.45 202.66 L481.95 202.66 L481.95 245.07 L237.72 245.07M237.72 202.66 L252.09 202.66M525.5 216.73 L525.5 295.77 L180.3 295.77M589.78 188 L625.85 188M625.85 159.25 L625.85 310.13M625.85 353.24 L625.85 396.18M625.85 209.25 L719.11 209.25M683.16 209.25 L683.16 245.07M683.16 288.56 L683.16 396.18M58.45 396.18 L683.16 396.18"/></g>
<g id="net-labels" fill="#3a9fdc" stroke="#3a9fdc">
<text x="22.55" y="119.13" font-size="11.4" stroke-width="0.1" textLength="26.5" lengthAdjust="spacingAndGlyphs">AVDD</text>
<text x="180.1" y="119.13" font-size="11.4" stroke-width="0.1" textLength="26.5" lengthAdjust="spacingAndGlyphs">AVDD</text>
<text x="22.55" y="226.93" font-size="11.4" stroke-width="0.1" textLength="26.5" lengthAdjust="spacingAndGlyphs">AVDD</text>
<text x="180.1" y="226.93" font-size="11.4" stroke-width="0.1" textLength="26.5" lengthAdjust="spacingAndGlyphs">AVDD</text>
<text x="29.85" y="327.5" font-size="11.4" stroke-width="0.1" textLength="26" lengthAdjust="spacingAndGlyphs">AVSS</text>
<text x="188.6" y="327.5" font-size="11.4" stroke-width="0.1" textLength="26" lengthAdjust="spacingAndGlyphs">AVSS</text>
<text x="262.05" y="69.1" font-size="11.4" stroke-width="0.1" textLength="26.5" lengthAdjust="spacingAndGlyphs">AVDD</text>
<text x="431.9" y="69.1" font-size="11.4" stroke-width="0.1" textLength="26.5" lengthAdjust="spacingAndGlyphs">AVDD</text>
<text x="382.3" y="327.5" font-size="11.4" stroke-width="0.1" textLength="26" lengthAdjust="spacingAndGlyphs">AVSS</text>
<text x="626.45" y="133.6" font-size="11.4" stroke-width="0.1" textLength="26.5" lengthAdjust="spacingAndGlyphs">AVDD</text>
<text x="633.65" y="327.5" font-size="11.4" stroke-width="0.1" textLength="26" lengthAdjust="spacingAndGlyphs">AVSS</text>
<text x="288.35" y="198.36" font-size="11.4" stroke-width="0.1" textLength="26" lengthAdjust="spacingAndGlyphs">AVSS</text>
<text x="404" y="198.36" font-size="11.4" stroke-width="0.1" textLength="26" lengthAdjust="spacingAndGlyphs">AVSS</text>
<text x="238.3" y="197.8" font-size="11.4" stroke-width="0.1" textLength="24.1" lengthAdjust="spacingAndGlyphs">VIN-</text>
<text x="338" y="11" font-size="11.4" stroke-width="0.1" textLength="27" lengthAdjust="spacingAndGlyphs">AVDD</text>
<text x="309.8" y="392.2" font-size="11.4" stroke-width="0.1" textLength="26.5" lengthAdjust="spacingAndGlyphs">AVSS</text>
<text x="238.3" y="257.8" font-size="11.4" stroke-width="0.1" textLength="25" lengthAdjust="spacingAndGlyphs">VIN+</text>
<text x="654.8" y="205.3" font-size="11.4" stroke-width="0.1" textLength="27.2" lengthAdjust="spacingAndGlyphs">VOUT</text>
<text transform="translate(520.1 188) rotate(-90)" font-size="10.6" stroke-width="0.1" textLength="27.2" lengthAdjust="spacingAndGlyphs">AVDD</text>
</g>
<g id="junctions" fill="#3cb8f5">
<rect x="176.8" y="11.55" width="6.5" height="7.2" rx="2.1" ry="2.3"/>
<rect x="277.25" y="11.55" width="6.5" height="7.2" rx="2.1" ry="2.3"/>
<rect x="428" y="11.55" width="6.5" height="7.2" rx="2.1" ry="2.3"/>
<rect x="126.1" y="119.53" width="6.5" height="7.2" rx="2.1" ry="2.3"/>
<rect x="176.8" y="170.08" width="6.5" height="7.2" rx="2.1" ry="2.3"/>
<rect x="126.1" y="227.33" width="6.5" height="7.2" rx="2.1" ry="2.3"/>
<rect x="176.8" y="277.2" width="6.5" height="7.2" rx="2.1" ry="2.3"/>
<rect x="176.8" y="291.87" width="6.5" height="7.2" rx="2.1" ry="2.3"/>
<rect x="54.95" y="284.66" width="6.5" height="7.2" rx="2.1" ry="2.3"/>
<rect x="104.85" y="327.9" width="6.5" height="7.2" rx="2.1" ry="2.3"/>
<rect x="126.1" y="327.9" width="6.5" height="7.2" rx="2.1" ry="2.3"/>
<rect x="284.8" y="363.6" width="6.5" height="7.2" rx="2.1" ry="2.3"/>
<rect x="176.8" y="392.28" width="6.5" height="7.2" rx="2.1" ry="2.3"/>
<rect x="356.5" y="392.28" width="6.5" height="7.2" rx="2.1" ry="2.3"/>
<rect x="622.35" y="392.28" width="6.5" height="7.2" rx="2.1" ry="2.3"/>
<rect x="356.5" y="270.58" width="6.5" height="7.2" rx="2.1" ry="2.3"/>
<rect x="327.3" y="69.5" width="6.5" height="7.2" rx="2.1" ry="2.3"/>
<rect x="277.25" y="112.1" width="6.5" height="7.2" rx="2.1" ry="2.3"/>
<rect x="428" y="134" width="6.5" height="7.2" rx="2.1" ry="2.3"/>
<rect x="478.45" y="134" width="6.5" height="7.2" rx="2.1" ry="2.3"/>
<rect x="622.35" y="184.1" width="6.5" height="7.2" rx="2.1" ry="2.3"/>
<rect x="622.35" y="205.35" width="6.5" height="7.2" rx="2.1" ry="2.3"/>
<rect x="679.66" y="205.35" width="6.5" height="7.2" rx="2.1" ry="2.3"/>
</g>
<g id="pins" fill="#ff0000">
<path d="M54.75 98.52h6.6v6.7h-6.6zM54.75 120.07h6.6v6.7h-6.6zM54.75 141.62h6.6v6.7h-6.6zM83.49 120.07h6.6v6.7h-6.6zM176.89 98.52h6.6v6.7h-6.6zM176.89 120.07h6.6v6.7h-6.6zM176.89 141.62h6.6v6.7h-6.6zM148.16 120.07h6.6v6.7h-6.6zM54.75 206.29h6.6v6.7h-6.6zM54.75 227.84h6.6v6.7h-6.6zM54.75 249.4h6.6v6.7h-6.6zM83.49 227.84h6.6v6.7h-6.6zM176.89 206.29h6.6v6.7h-6.6zM176.89 227.84h6.6v6.7h-6.6zM176.89 249.4h6.6v6.7h-6.6zM148.16 227.84h6.6v6.7h-6.6zM54.75 306.88h6.6v6.7h-6.6zM54.75 328.43h6.6v6.7h-6.6zM54.75 349.99h6.6v6.7h-6.6zM83.49 328.43h6.6v6.7h-6.6zM176.89 306.88h6.6v6.7h-6.6zM176.89 328.43h6.6v6.7h-6.6zM176.89 349.99h6.6v6.7h-6.6zM148.16 328.43h6.6v6.7h-6.6zM277.49 48.22h6.6v6.7h-6.6zM277.49 69.78h6.6v6.7h-6.6zM277.49 91.33h6.6v6.7h-6.6zM306.23 69.78h6.6v6.7h-6.6zM428.37 48.22h6.6v6.7h-6.6zM428.37 69.78h6.6v6.7h-6.6zM428.37 91.33h6.6v6.7h-6.6zM399.63 69.78h6.6v6.7h-6.6zM356.52 306.88h6.6v6.7h-6.6zM356.52 328.43h6.6v6.7h-6.6zM356.52 349.99h6.6v6.7h-6.6zM327.78 328.43h6.6v6.7h-6.6zM622.37 112.89h6.6v6.7h-6.6zM622.37 134.44h6.6v6.7h-6.6zM622.37 156h6.6v6.7h-6.6zM593.62 134.44h6.6v6.7h-6.6zM622.37 306.88h6.6v6.7h-6.6zM622.37 328.43h6.6v6.7h-6.6zM622.37 349.99h6.6v6.7h-6.6zM593.62 328.43h6.6v6.7h-6.6zM277.49 177.55h6.6v6.7h-6.6zM277.49 199.11h6.6v6.7h-6.6zM277.49 220.66h6.6v6.7h-6.6zM248.75 199.11h6.6v6.7h-6.6zM428.37 177.55h6.6v6.7h-6.6zM428.37 199.11h6.6v6.7h-6.6zM428.37 220.66h6.6v6.7h-6.6zM457.11 199.11h6.6v6.7h-6.6zM500.22 184.74h6.6v6.7h-6.6zM521.77 184.74h6.6v6.7h-6.6zM543.33 184.74h6.6v6.7h-6.6zM521.77 213.48h6.6v6.7h-6.6zM54.75 33.85h6.6v6.7h-6.6zM54.75 76.96h6.6v6.7h-6.6zM543.33 184.74h6.6v6.7h-6.6zM586.44 184.74h6.6v6.7h-6.6zM679.85 242.21h6.6v6.7h-6.6zM679.85 285.32h6.6v6.7h-6.6z"/>
<path d="M719.12 203.25h8l5.8 6.3l-5.8 6.3h-8z" stroke="#7a5a20" stroke-width="0.5"/>
</g>
<g id="names" fill="#ff0000" stroke="#ff0000">
<text x="34.45" y="99.16" font-size="9.2" stroke-width="0.25" textLength="16.8" lengthAdjust="spacingAndGlyphs">M12</text>
<text x="186.3" y="99.16" font-size="9.2" stroke-width="0.25" textLength="16.8" lengthAdjust="spacingAndGlyphs">M13</text>
<text x="34.45" y="206.65" font-size="9.2" stroke-width="0.25" textLength="16.8" lengthAdjust="spacingAndGlyphs">M10</text>
<text x="186.3" y="206.65" font-size="9.2" stroke-width="0.25" textLength="16.8" lengthAdjust="spacingAndGlyphs">M11</text>
<text x="39.05" y="306.93" font-size="9.2" stroke-width="0.25" textLength="11.2" lengthAdjust="spacingAndGlyphs">M8</text>
<text x="188.1" y="306.93" font-size="9.2" stroke-width="0.25" textLength="11.2" lengthAdjust="spacingAndGlyphs">M9</text>
<text x="262.35" y="48.87" font-size="9.2" stroke-width="0.25" textLength="11.2" lengthAdjust="spacingAndGlyphs">M3</text>
<text x="438.7" y="48.87" font-size="9.2" stroke-width="0.25" textLength="11.2" lengthAdjust="spacingAndGlyphs">M4</text>
<text x="368.2" y="306.93" font-size="9.2" stroke-width="0.25" textLength="11.2" lengthAdjust="spacingAndGlyphs">M5</text>
<text x="633.25" y="113.4" font-size="9.2" stroke-width="0.25" textLength="11.2" lengthAdjust="spacingAndGlyphs">M6</text>
<text x="633.85" y="306.93" font-size="9.2" stroke-width="0.25" textLength="11.2" lengthAdjust="spacingAndGlyphs">M7</text>
<text x="288.55" y="177.6" font-size="9.2" stroke-width="0.25" textLength="11.2" lengthAdjust="spacingAndGlyphs">M0</text>
<text x="412.5" y="177.6" font-size="9.2" stroke-width="0.25" textLength="11.2" lengthAdjust="spacingAndGlyphs">M1</text>
<text x="737" y="213.6" font-size="11.4" stroke-width="0.25" textLength="27.2" lengthAdjust="spacingAndGlyphs">VOUT</text>
<text x="68.7" y="44.2" font-size="9.2" stroke-width="0.25" textLength="11.7" lengthAdjust="spacingAndGlyphs">R4</text>
<text x="690.6" y="253.2" font-size="9.8" stroke-width="0.25" textLength="10.2" lengthAdjust="spacingAndGlyphs">CL</text>
<text transform="translate(501.3 181) rotate(-90)" font-size="8.56" stroke-width="0.25" textLength="16.2" lengthAdjust="spacingAndGlyphs">M14</text>
<text transform="translate(554 180.3) rotate(-90)" font-size="8.56" stroke-width="0.25" textLength="9.9" lengthAdjust="spacingAndGlyphs">Cc</text>
</g>
<g id="overlay">
<rect x="85.14" y="64.14" width="3.6" height="3.6" fill="#000" stroke="#e8e000" stroke-width="1.1"/>
<text y="411.2" font-size="14.2" fill="#c8c8c8" stroke="#000" stroke-opacity="0.5" stroke-width="1.6" paint-order="stroke" xml:space="preserve"><tspan x="614.7" textLength="39.4" lengthAdjust="spacingAndGlyphs">CSDN </tspan><tspan x="654.2" textLength="34.1" lengthAdjust="spacingAndGlyphs">@qq_</tspan><tspan x="688.4" textLength="65.8" lengthAdjust="spacingAndGlyphs">50968231</tspan></text>
</g>
</svg>
</body>
</html>
